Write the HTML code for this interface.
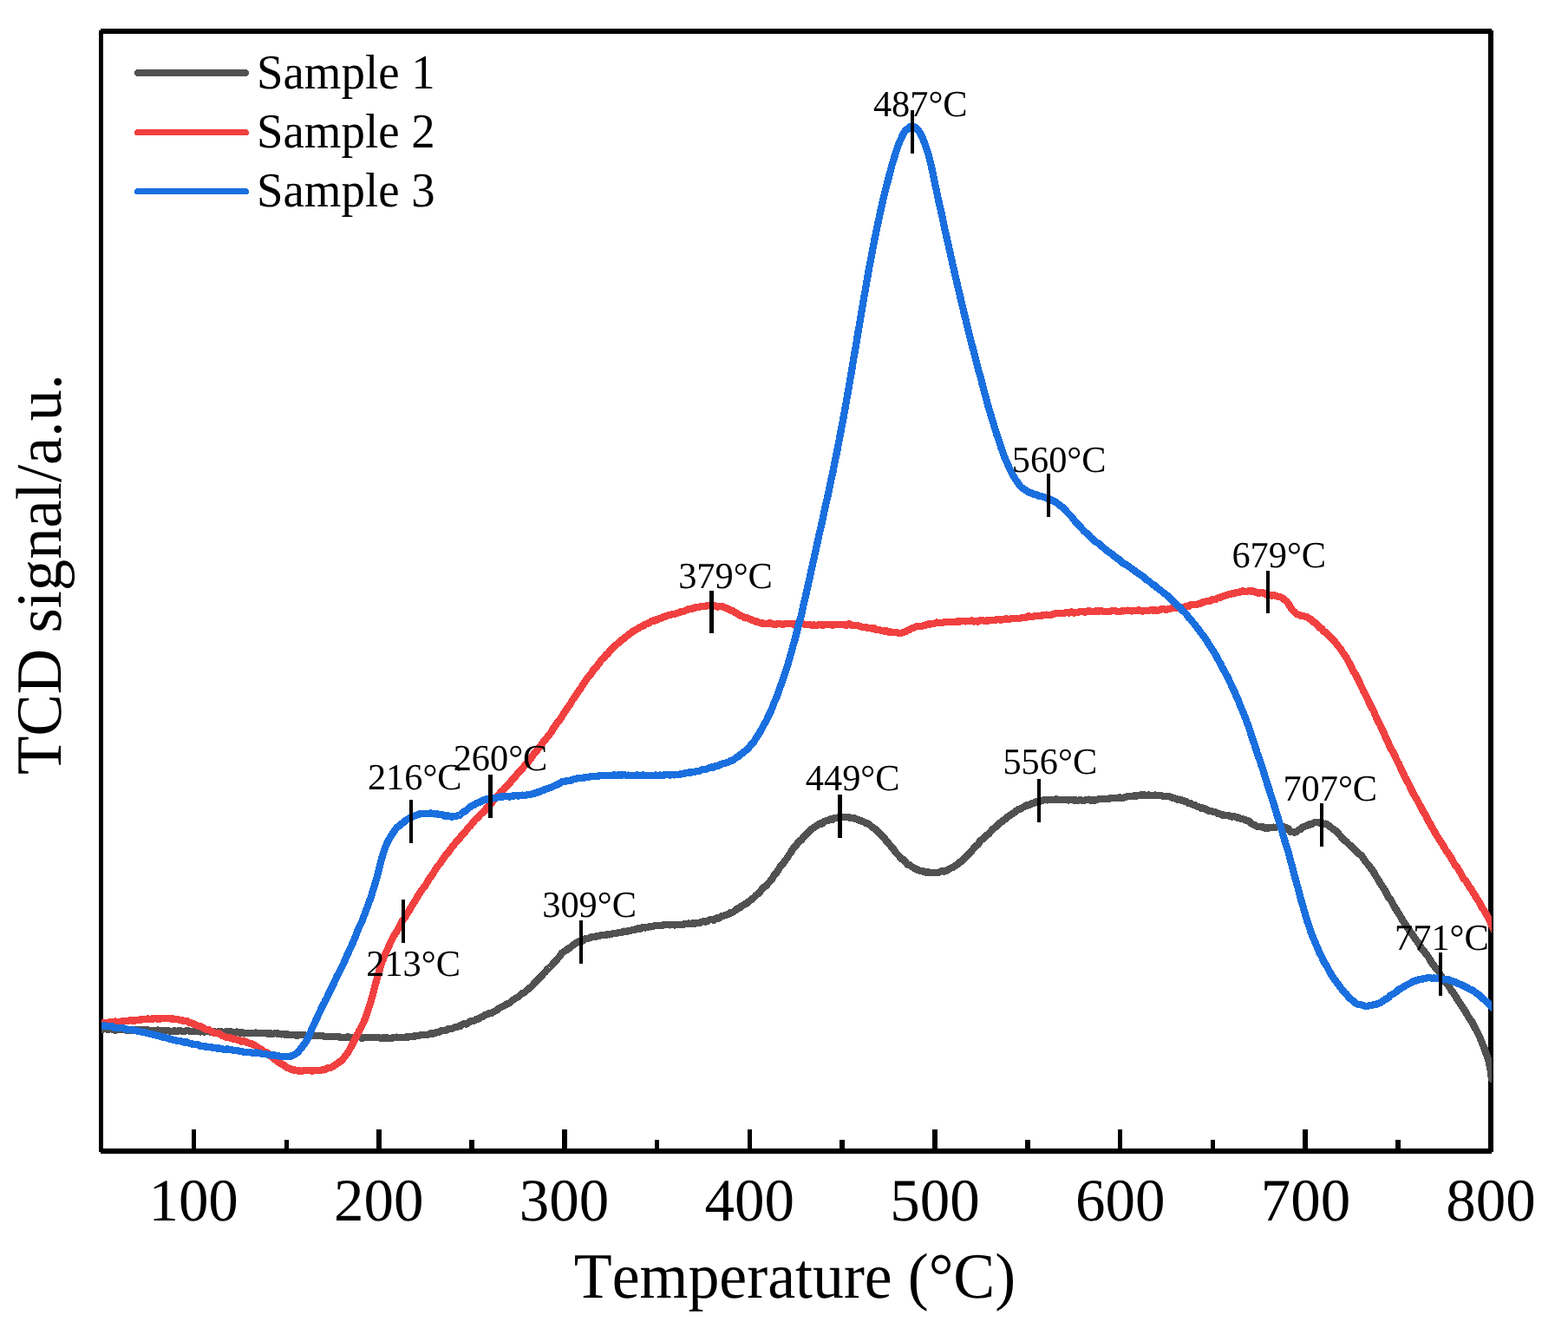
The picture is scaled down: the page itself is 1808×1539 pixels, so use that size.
<!DOCTYPE html>
<html lang="en"><head><meta charset="utf-8"><title>TCD signal vs Temperature</title>
<style>html,body{margin:0;padding:0;background:#fff;}body{width:1808px;height:1539px;overflow:hidden;}svg{display:block;}text{font-family:'Liberation Serif', 'DejaVu Serif', serif;fill:#000;font-kerning:none;font-variant-ligatures:none;text-rendering:geometricPrecision;}</style>
</head><body>
<svg width="1808" height="1539" viewBox="0 0 1808 1539" role="img" aria-label="TCD signal versus temperature for Sample 1, Sample 2 and Sample 3">
<rect x="0" y="0" width="1808" height="1539" fill="#ffffff"/>
<defs><clipPath id="plot"><rect x="117" y="35.9" width="1603.00" height="1291.20"/></clipPath></defs>
<g fill="#000" shape-rendering="crispEdges">
<rect x="114" y="35" width="5" height="1293"/>
<rect x="1716" y="35" width="6" height="1293"/>
<rect x="116" y="33" width="1604" height="6"/>
<rect x="116" y="1324" width="1604" height="6"/>
<rect x="221" y="1302" width="5" height="24"/>
<rect x="328" y="1314" width="5" height="12"/>
<rect x="434" y="1302" width="6" height="24"/>
<rect x="541" y="1314" width="6" height="12"/>
<rect x="648" y="1302" width="6" height="24"/>
<rect x="755" y="1314" width="5" height="12"/>
<rect x="862" y="1302" width="5" height="24"/>
<rect x="968" y="1314" width="6" height="12"/>
<rect x="1075" y="1302" width="6" height="24"/>
<rect x="1182" y="1314" width="6" height="12"/>
<rect x="1289" y="1302" width="5" height="24"/>
<rect x="1396" y="1314" width="5" height="12"/>
<rect x="1502" y="1302" width="6" height="24"/>
<rect x="1609" y="1314" width="6" height="12"/>
</g>
<g clip-path="url(#plot)" fill="none" stroke-linejoin="round" stroke-linecap="round" stroke-width="8.3" shape-rendering="crispEdges">
<path d="M111.1,1186.2L112.3,1186.7L113.5,1186.7L114.7,1186.3L115.9,1186.4L117.1,1186.8L118.3,1186.6L119.5,1186.1L120.7,1186.0L121.9,1186.3L123.1,1186.5L124.3,1186.6L125.5,1186.5L126.7,1186.2L127.9,1186.2L129.1,1186.3L130.3,1186.8L131.5,1187.5L132.7,1187.7L133.9,1187.5L135.1,1187.3L136.3,1187.2L137.5,1187.1L138.7,1186.9L139.9,1186.9L141.1,1186.9L142.3,1186.9L143.5,1186.9L144.7,1187.3L145.9,1188.0L147.1,1188.0L148.3,1187.6L149.5,1187.5L150.7,1187.6L151.9,1187.5L153.1,1187.2L154.3,1187.2L155.5,1187.3L156.7,1187.5L157.9,1187.6L159.1,1187.5L160.3,1187.4L161.5,1187.4L162.7,1187.5L163.9,1187.5L165.1,1187.5L166.3,1187.5L167.5,1187.5L168.7,1187.5L169.9,1187.4L171.1,1187.5L172.3,1187.8L173.5,1187.9L174.7,1187.8L175.9,1187.9L177.1,1188.1L178.3,1188.1L179.5,1188.0L180.7,1187.8L181.9,1187.6L183.1,1187.7L184.3,1188.0L185.5,1188.1L186.7,1188.1L187.9,1188.2L189.1,1188.4L190.3,1188.4L191.5,1188.3L192.7,1188.2L193.9,1188.3L195.1,1188.5L196.3,1188.7L197.5,1188.8L198.7,1188.7L199.9,1188.6L201.1,1188.3L202.3,1188.5L203.5,1188.9L204.7,1188.8L205.9,1188.4L207.1,1188.3L208.3,1188.4L209.5,1188.6L210.7,1188.8L211.9,1188.9L213.1,1188.7L214.3,1188.4L215.5,1188.0L216.7,1188.1L217.9,1188.5L219.1,1188.7L220.3,1188.8L221.5,1189.0L222.7,1189.3L223.9,1189.3L225.1,1188.8L226.3,1188.6L227.5,1188.5L228.7,1188.7L229.9,1189.3L231.1,1189.5L232.3,1189.3L233.5,1189.3L234.7,1189.5L235.9,1189.5L237.1,1189.3L238.3,1189.2L239.5,1189.3L240.7,1189.3L241.9,1189.4L243.1,1189.4L244.3,1189.4L245.5,1189.3L246.7,1189.2L247.9,1189.4L249.0,1189.7L250.2,1189.7L251.4,1189.4L252.6,1189.2L253.8,1189.2L255.0,1189.3L256.2,1189.6L257.4,1189.9L258.6,1190.5L259.8,1190.2L261.0,1189.2L262.2,1188.9L263.4,1189.3L264.6,1189.4L265.8,1189.2L267.0,1189.4L268.2,1189.9L269.4,1190.2L270.6,1190.0L271.8,1189.8L273.0,1189.6L274.2,1189.8L275.4,1190.4L276.6,1190.5L277.8,1190.1L279.0,1190.3L280.2,1191.1L281.4,1191.4L282.6,1191.0L283.8,1190.9L285.0,1191.0L286.2,1190.9L287.4,1190.7L288.6,1190.8L289.8,1191.1L291.0,1191.2L292.2,1191.1L293.4,1190.9L294.6,1190.6L295.8,1190.6L297.0,1190.9L298.2,1190.9L299.4,1190.9L300.6,1190.9L301.8,1191.1L303.0,1191.2L304.2,1191.2L305.4,1191.2L306.6,1191.3L307.8,1191.4L309.0,1191.6L310.2,1191.5L311.4,1191.4L312.6,1191.5L313.8,1192.0L315.0,1192.0L316.2,1191.4L317.4,1191.2L318.6,1191.5L319.8,1191.6L321.0,1191.5L322.2,1191.7L323.4,1192.2L324.6,1192.4L325.8,1192.3L327.0,1192.3L328.2,1192.5L329.4,1192.5L330.6,1192.3L331.8,1192.4L333.0,1192.7L334.2,1192.9L335.4,1193.0L336.6,1193.0L337.8,1193.0L339.0,1193.2L340.2,1193.4L341.4,1193.6L342.6,1193.6L343.8,1193.5L345.0,1193.2L346.2,1192.9L347.4,1192.7L348.6,1192.7L349.8,1192.8L351.0,1193.1L352.2,1193.7L353.4,1193.8L354.6,1193.6L355.8,1193.6L357.0,1193.9L358.2,1193.9L359.4,1193.4L360.6,1193.4L361.8,1193.9L363.0,1194.1L364.2,1194.0L365.4,1194.0L366.6,1194.1L367.8,1194.1L369.0,1194.1L370.2,1194.1L371.4,1194.2L372.6,1194.4L373.8,1194.7L375.0,1194.9L376.2,1195.2L377.4,1195.2L378.6,1195.1L379.8,1195.1L381.0,1195.3L382.2,1195.3L383.4,1195.3L384.6,1195.2L385.8,1194.9L387.0,1194.8L388.1,1194.7L389.3,1194.9L390.5,1195.4L391.7,1195.6L392.9,1195.7L394.1,1195.9L395.3,1196.3L396.5,1196.3L397.7,1196.0L398.9,1195.7L400.1,1195.5L401.3,1195.5L402.5,1195.6L403.7,1195.8L404.9,1196.1L406.1,1196.2L407.3,1195.9L408.5,1195.8L409.7,1195.9L410.9,1195.7L412.1,1195.0L413.3,1194.7L414.5,1195.1L415.7,1195.8L416.9,1196.7L418.1,1196.9L419.3,1196.3L420.5,1196.0L421.7,1196.0L422.9,1196.0L424.1,1196.0L425.3,1196.1L426.5,1196.2L427.7,1196.3L428.9,1196.1L430.1,1196.0L431.3,1195.9L432.5,1196.0L433.7,1196.0L434.9,1196.1L436.1,1196.2L437.3,1196.4L438.5,1196.7L439.7,1196.8L440.9,1196.6L442.1,1196.5L443.3,1196.4L444.5,1196.4L445.7,1196.5L446.9,1196.5L448.1,1196.7L449.3,1196.8L450.5,1196.7L451.7,1196.6L452.9,1196.5L454.1,1196.2L455.3,1195.9L456.4,1195.7L457.6,1195.6L458.8,1195.7L460.0,1196.0L461.2,1196.2L462.4,1196.0L463.6,1196.0L464.8,1196.3L466.0,1196.3L467.2,1195.7L468.4,1195.4L469.6,1195.5L470.8,1195.5L471.9,1195.2L473.1,1195.0L474.3,1194.8L475.5,1194.7L476.7,1194.6L477.9,1194.5L479.1,1194.4L480.3,1194.3L481.5,1194.1L482.6,1193.9L483.8,1193.5L485.0,1193.1L486.2,1193.1L487.4,1193.0L488.6,1192.9L489.7,1192.9L490.9,1193.0L492.1,1193.0L493.3,1192.7L494.5,1192.3L495.6,1191.8L496.8,1191.3L498.0,1191.5L499.2,1191.6L500.4,1191.3L501.5,1190.9L502.7,1190.3L503.9,1189.7L505.0,1189.8L506.2,1190.0L507.4,1189.2L508.6,1188.2L509.7,1188.1L510.9,1188.2L512.1,1188.3L513.2,1188.3L514.4,1187.7L515.6,1186.8L516.7,1186.4L517.9,1186.2L519.0,1186.2L520.2,1186.2L521.3,1185.9L522.5,1185.2L523.6,1184.6L524.8,1184.3L526.0,1184.0L527.1,1183.7L528.2,1183.4L529.4,1183.3L530.5,1183.1L531.7,1182.1L532.8,1181.0L534.0,1180.6L535.1,1180.1L536.2,1180.3L537.4,1180.6L538.5,1180.0L539.6,1179.2L540.7,1178.5L541.9,1177.7L543.0,1177.3L544.1,1177.1L545.2,1176.9L546.4,1176.6L547.5,1176.3L548.6,1175.6L549.7,1174.9L550.8,1174.7L551.9,1174.5L553.0,1173.7L554.1,1172.8L555.2,1172.4L556.3,1172.1L557.4,1171.4L558.5,1170.4L559.6,1169.7L560.7,1169.6L561.8,1169.4L562.8,1168.8L563.9,1168.1L565.0,1168.1L566.1,1168.1L567.1,1167.6L568.2,1166.9L569.3,1166.3L570.3,1165.8L571.4,1165.3L572.4,1164.6L573.5,1163.9L574.5,1163.1L575.6,1162.4L576.6,1161.7L577.7,1161.2L578.7,1160.6L579.7,1160.1L580.8,1159.6L581.8,1159.0L582.8,1158.4L583.8,1157.8L584.9,1157.2L585.9,1156.7L586.9,1156.5L587.9,1156.3L588.9,1155.2L589.9,1154.1L590.9,1153.2L591.9,1152.6L592.8,1152.0L593.8,1151.2L594.8,1150.5L595.8,1150.0L596.7,1149.6L597.7,1149.2L598.7,1148.3L599.6,1147.4L600.6,1146.5L601.5,1145.7L602.5,1145.0L603.4,1144.8L604.3,1144.5L605.3,1143.9L606.2,1142.8L607.1,1141.8L608.0,1141.0L608.9,1140.3L609.8,1139.6L610.7,1138.9L611.6,1138.2L612.5,1137.4L613.4,1136.5L614.3,1135.7L615.1,1134.7L616.0,1133.8L616.9,1132.8L617.7,1132.0L618.6,1131.1L619.4,1130.3L620.3,1129.4L621.1,1128.6L622.0,1127.8L622.8,1126.9L623.6,1126.0L624.5,1125.0L625.3,1123.9L626.1,1122.8L627.0,1122.0L627.8,1121.3L628.6,1120.6L629.4,1119.7L630.2,1118.6L631.1,1117.5L631.9,1116.8L632.7,1116.1L633.5,1115.5L634.3,1114.7L635.2,1113.9L636.0,1113.1L636.8,1112.1L637.6,1111.0L638.5,1110.0L639.3,1109.2L640.1,1108.3L641.0,1107.5L641.8,1106.5L642.6,1105.6L643.5,1104.6L644.3,1103.6L645.2,1102.7L646.0,1101.6L646.9,1100.3L647.8,1099.0L648.6,1098.2L649.5,1097.5L650.4,1096.9L651.3,1096.4L652.2,1095.8L653.1,1095.2L654.0,1094.5L654.9,1093.8L655.8,1093.2L656.8,1092.8L657.7,1092.4L658.6,1091.4L659.6,1090.4L660.5,1089.6L661.5,1089.0L662.5,1088.3L663.5,1087.7L664.5,1087.0L665.5,1086.4L666.5,1085.8L667.5,1085.3L668.6,1085.0L669.6,1084.8L670.7,1084.8L671.7,1084.7L672.8,1083.9L673.9,1082.9L675.0,1082.3L676.1,1082.0L677.3,1081.8L678.4,1081.7L679.6,1081.4L680.7,1080.9L681.9,1080.4L683.1,1080.0L684.3,1079.7L685.5,1079.8L686.7,1079.7L687.9,1079.4L689.1,1079.1L690.3,1078.9L691.5,1078.6L692.8,1078.1L694.0,1077.8L695.2,1078.0L696.4,1078.0L697.7,1077.8L698.9,1077.6L700.2,1077.4L701.4,1077.3L702.6,1077.4L703.9,1077.2L705.1,1076.8L706.3,1076.4L707.6,1076.0L708.8,1075.9L710.0,1076.1L711.2,1075.8L712.4,1075.3L713.7,1075.0L714.9,1074.9L716.1,1074.7L717.2,1074.6L718.4,1074.2L719.6,1073.6L720.8,1073.7L722.0,1074.0L723.2,1073.8L724.3,1073.2L725.5,1072.9L726.7,1072.9L727.8,1072.7L729.0,1072.3L730.2,1072.0L731.3,1071.9L732.5,1071.6L733.6,1070.9L734.8,1070.5L735.9,1070.6L737.1,1070.6L738.3,1070.6L739.4,1070.4L740.6,1069.7L741.7,1069.0L742.9,1069.3L744.0,1069.5L745.2,1069.2L746.3,1069.0L747.5,1068.6L748.6,1068.3L749.8,1068.3L751.0,1068.4L752.1,1068.2L753.3,1067.8L754.5,1067.4L755.6,1067.0L756.8,1067.0L758.0,1067.3L759.1,1067.1L760.3,1066.7L761.5,1066.7L762.7,1066.8L763.9,1066.7L765.0,1066.4L766.2,1066.1L767.4,1065.8L768.6,1065.8L769.8,1066.0L771.0,1066.2L772.2,1066.4L773.4,1066.2L774.6,1065.7L775.8,1065.7L776.9,1066.3L778.1,1066.5L779.3,1066.1L780.5,1066.0L781.7,1066.1L782.9,1066.1L784.1,1066.0L785.3,1065.9L786.5,1065.9L787.7,1065.8L788.9,1065.4L790.1,1065.1L791.3,1064.8L792.5,1064.7L793.8,1064.6L795.0,1064.7L796.2,1064.9L797.4,1064.9L798.6,1064.5L799.8,1064.4L801.0,1064.4L802.2,1064.4L803.4,1064.1L804.6,1064.0L805.8,1064.1L807.0,1063.8L808.2,1063.2L809.4,1062.7L810.6,1062.2L811.8,1062.1L813.0,1062.5L814.2,1062.5L815.4,1062.0L816.5,1061.5L817.7,1060.7L818.9,1060.3L820.1,1060.3L821.2,1060.4L822.4,1060.7L823.6,1060.5L824.7,1059.3L825.9,1058.5L827.0,1058.7L828.2,1058.7L829.3,1058.0L830.4,1057.3L831.6,1056.6L832.7,1055.8L833.8,1055.7L834.9,1055.6L836.0,1055.3L837.1,1054.9L838.2,1054.5L839.3,1054.2L840.4,1053.7L841.5,1052.8L842.5,1052.0L843.6,1051.9L844.7,1051.8L845.7,1051.1L846.8,1050.3L847.8,1049.4L848.8,1048.4L849.9,1047.7L850.9,1047.4L851.9,1047.2L852.9,1046.4L853.9,1045.5L854.9,1044.8L855.9,1044.2L856.9,1043.6L857.9,1043.1L858.9,1042.5L859.9,1041.9L860.8,1041.3L861.8,1040.7L862.7,1040.0L863.7,1039.4L864.6,1038.5L865.6,1037.6L866.5,1036.6L867.4,1036.2L868.3,1035.7L869.2,1034.9L870.1,1033.9L871.0,1032.8L871.9,1032.0L872.8,1031.3L873.7,1030.5L874.6,1029.7L875.4,1028.9L876.3,1028.0L877.1,1027.0L878.0,1025.9L878.8,1024.9L879.7,1024.0L880.5,1023.0L881.3,1022.4L882.1,1021.9L882.9,1021.5L883.7,1020.7L884.5,1019.6L885.3,1018.6L886.1,1017.8L886.9,1017.0L887.7,1016.3L888.4,1015.4L889.2,1014.5L889.9,1013.6L890.7,1012.5L891.4,1011.2L892.1,1009.9L892.9,1008.6L893.6,1007.9L894.3,1007.3L895.0,1006.6L895.7,1005.7L896.4,1004.6L897.1,1003.5L897.8,1002.4L898.5,1001.2L899.2,999.9L899.9,998.7L900.6,997.9L901.2,997.2L901.9,996.6L902.6,995.8L903.3,994.9L904.0,994.0L904.6,993.1L905.3,992.1L906.0,991.2L906.7,990.2L907.4,989.2L908.1,988.2L908.8,987.1L909.4,986.1L910.1,985.1L910.8,984.1L911.5,983.0L912.3,981.9L913.0,980.7L913.7,979.4L914.4,978.2L915.1,977.5L915.9,976.9L916.6,976.2L917.3,975.3L918.1,974.3L918.8,973.2L919.6,972.1L920.4,970.9L921.2,969.8L922.0,969.1L922.8,969.0L923.6,968.8L924.4,968.1L925.2,966.7L926.0,965.2L926.9,964.2L927.8,963.4L928.6,962.7L929.5,961.8L930.4,960.8L931.3,959.9L932.2,959.2L933.1,958.5L934.1,957.7L935.0,956.7L936.0,955.7L936.9,955.0L937.9,954.4L938.9,953.8L939.9,953.0L940.9,952.3L941.9,951.7L942.9,951.0L943.9,950.4L944.9,949.7L946.0,949.3L947.0,949.4L948.1,949.5L949.1,948.3L950.2,947.1L951.3,946.6L952.4,946.3L953.5,946.1L954.6,946.1L955.7,945.6L956.8,944.7L957.9,944.1L959.0,944.4L960.2,944.6L961.3,943.6L962.5,942.7L963.6,942.8L964.8,942.9L965.9,942.6L967.1,942.4L968.3,942.1L969.5,941.9L970.7,941.9L971.9,942.1L973.1,942.0L974.3,941.8L975.5,942.0L976.7,942.2L977.9,942.3L979.0,942.4L980.2,942.6L981.4,942.8L982.6,942.8L983.8,942.8L985.0,943.3L986.2,943.9L987.4,944.2L988.5,944.6L989.7,945.1L990.9,945.8L992.0,946.1L993.1,946.4L994.3,946.7L995.4,947.2L996.5,947.8L997.6,948.4L998.7,949.0L999.7,949.2L1000.8,949.5L1001.8,950.2L1002.9,951.0L1003.9,951.9L1004.9,952.9L1005.9,953.7L1006.8,954.2L1007.8,954.7L1008.7,955.4L1009.6,956.2L1010.5,957.0L1011.4,957.9L1012.3,958.8L1013.2,959.7L1014.0,960.5L1014.9,961.3L1015.7,962.1L1016.5,962.8L1017.4,963.6L1018.2,964.5L1019.0,965.5L1019.8,966.4L1020.6,967.5L1021.3,968.6L1022.1,969.7L1022.9,970.6L1023.7,971.4L1024.4,972.2L1025.2,973.1L1026.0,973.9L1026.7,974.7L1027.5,975.6L1028.2,976.5L1029.0,977.5L1029.8,978.4L1030.5,979.5L1031.3,980.6L1032.1,981.7L1032.8,982.6L1033.6,983.5L1034.4,984.3L1035.2,985.2L1036.0,986.1L1036.8,986.9L1037.6,988.0L1038.4,989.0L1039.2,990.0L1040.1,990.4L1040.9,990.8L1041.7,991.2L1042.6,992.1L1043.5,993.0L1044.4,994.0L1045.3,995.2L1046.2,996.5L1047.1,996.9L1048.0,997.0L1049.0,997.2L1050.0,998.0L1050.9,998.9L1051.9,999.5L1053.0,1000.0L1054.0,1000.6L1055.1,1001.2L1056.1,1001.7L1057.2,1002.4L1058.3,1003.1L1059.4,1003.4L1060.6,1003.7L1061.7,1003.8L1062.9,1004.0L1064.1,1004.4L1065.2,1004.9L1066.4,1005.3L1067.6,1005.6L1068.8,1005.6L1070.0,1005.5L1071.2,1005.6L1072.4,1005.9L1073.7,1005.9L1074.9,1005.7L1076.1,1005.9L1077.3,1006.2L1078.5,1006.2L1079.7,1006.0L1080.9,1006.0L1082.1,1006.1L1083.3,1005.4L1084.5,1004.6L1085.7,1004.4L1086.9,1004.3L1088.0,1004.4L1089.2,1004.5L1090.3,1004.1L1091.4,1003.6L1092.5,1003.0L1093.6,1002.2L1094.7,1001.6L1095.8,1001.1L1096.8,1000.7L1097.8,1000.3L1098.9,999.9L1099.9,999.2L1100.9,998.4L1101.9,997.7L1102.8,997.2L1103.8,996.7L1104.8,995.8L1105.7,994.9L1106.6,994.0L1107.6,993.5L1108.5,992.9L1109.4,992.1L1110.3,991.3L1111.2,990.4L1112.1,989.4L1113.0,988.5L1113.8,987.5L1114.7,986.7L1115.6,985.9L1116.4,985.1L1117.3,984.2L1118.1,983.4L1119.0,982.5L1119.8,981.6L1120.7,980.6L1121.5,979.6L1122.3,978.5L1123.2,977.5L1124.0,976.7L1124.8,975.9L1125.7,975.1L1126.5,974.4L1127.3,973.8L1128.1,973.1L1128.9,971.6L1129.8,970.0L1130.6,968.8L1131.4,968.3L1132.2,967.9L1133.1,967.4L1133.9,966.5L1134.7,965.7L1135.6,964.9L1136.4,964.1L1137.2,963.3L1138.1,962.7L1138.9,962.0L1139.8,961.4L1140.6,960.6L1141.5,959.6L1142.4,958.7L1143.2,957.6L1144.1,956.5L1145.0,955.5L1145.9,954.9L1146.7,954.3L1147.6,953.6L1148.5,952.8L1149.4,952.0L1150.3,951.0L1151.3,950.0L1152.2,949.0L1153.1,948.4L1154.0,947.9L1155.0,947.2L1155.9,946.6L1156.8,945.9L1157.8,945.2L1158.7,944.5L1159.7,943.7L1160.7,942.7L1161.6,941.8L1162.6,941.3L1163.6,940.8L1164.6,940.2L1165.6,939.3L1166.6,938.6L1167.6,937.9L1168.6,937.3L1169.6,936.6L1170.6,935.8L1171.6,935.0L1172.7,934.1L1173.7,933.4L1174.7,933.2L1175.8,933.0L1176.8,932.4L1177.9,931.8L1179.0,931.1L1180.0,930.5L1181.1,929.8L1182.2,929.1L1183.3,928.5L1184.4,928.4L1185.5,928.4L1186.6,927.9L1187.7,927.3L1188.8,926.8L1189.9,926.2L1191.0,925.9L1192.1,925.7L1193.3,925.2L1194.4,924.2L1195.6,923.7L1196.7,924.3L1197.9,924.6L1199.0,923.8L1200.2,923.1L1201.4,923.0L1202.5,922.8L1203.7,922.4L1204.9,922.2L1206.1,922.3L1207.3,922.4L1208.5,922.1L1209.7,921.8L1210.9,921.8L1212.1,921.8L1213.3,921.8L1214.5,921.8L1215.7,921.7L1216.9,921.6L1218.1,921.6L1219.3,921.6L1220.5,922.0L1221.7,922.3L1222.9,922.0L1224.1,921.7L1225.4,921.8L1226.6,921.9L1227.8,922.0L1229.0,922.2L1230.2,922.3L1231.4,922.4L1232.6,922.4L1233.8,922.3L1235.0,922.0L1236.2,921.8L1237.4,922.3L1238.6,922.7L1239.8,922.6L1241.0,922.6L1242.2,922.7L1243.4,922.7L1244.6,922.4L1245.8,922.2L1247.0,922.5L1248.1,922.8L1249.3,922.8L1250.5,922.8L1251.7,922.4L1252.9,922.0L1254.1,921.8L1255.3,921.6L1256.5,922.2L1257.7,922.8L1258.9,922.5L1260.0,922.2L1261.2,922.5L1262.4,922.8L1263.6,922.3L1264.8,921.9L1266.0,921.5L1267.2,921.0L1268.4,921.2L1269.6,921.3L1270.8,921.3L1271.9,921.2L1273.1,921.2L1274.3,921.2L1275.5,921.2L1276.7,921.1L1277.9,920.8L1279.1,920.5L1280.3,920.4L1281.5,920.3L1282.7,920.3L1283.9,920.3L1285.1,920.1L1286.3,919.9L1287.5,919.9L1288.7,919.9L1289.9,919.6L1291.1,919.2L1292.3,919.6L1293.5,920.2L1294.7,919.9L1295.9,919.6L1297.1,919.2L1298.3,918.8L1299.5,918.4L1300.7,918.0L1301.9,918.0L1303.1,918.1L1304.3,918.0L1305.5,918.0L1306.7,917.6L1307.9,917.1L1309.1,917.4L1310.3,917.7L1311.5,917.4L1312.7,917.0L1313.9,916.8L1315.1,916.5L1316.3,916.5L1317.5,916.4L1318.7,916.5L1319.8,916.6L1321.0,916.9L1322.2,917.2L1323.4,916.9L1324.6,916.4L1325.8,916.6L1327.0,917.0L1328.2,917.1L1329.3,917.1L1330.5,916.8L1331.7,916.5L1332.9,916.7L1334.1,917.1L1335.3,917.2L1336.4,917.3L1337.6,917.3L1338.8,917.2L1339.9,917.5L1341.1,917.8L1342.3,917.9L1343.4,917.9L1344.6,917.9L1345.8,918.1L1346.9,918.2L1348.1,918.3L1349.2,918.5L1350.4,919.0L1351.6,919.5L1352.7,919.8L1353.9,920.2L1355.0,920.6L1356.2,921.0L1357.3,921.5L1358.5,922.1L1359.6,921.8L1360.8,921.6L1361.9,922.3L1363.0,923.1L1364.2,923.4L1365.3,923.5L1366.5,923.7L1367.6,924.0L1368.8,924.8L1369.9,925.9L1371.0,926.3L1372.2,926.1L1373.3,926.3L1374.5,927.2L1375.6,927.8L1376.7,928.0L1377.9,928.2L1379.0,928.9L1380.2,929.6L1381.3,929.8L1382.4,930.1L1383.6,930.9L1384.7,931.6L1385.9,931.6L1387.0,931.5L1388.2,931.9L1389.3,932.4L1390.4,932.9L1391.6,933.4L1392.7,934.1L1393.9,934.8L1395.0,935.1L1396.2,935.1L1397.3,935.3L1398.5,935.7L1399.6,936.1L1400.8,936.2L1401.9,936.5L1403.1,937.2L1404.3,937.8L1405.4,938.0L1406.6,938.2L1407.7,938.9L1408.9,939.5L1410.1,939.5L1411.2,939.6L1412.4,939.7L1413.6,939.9L1414.7,939.9L1415.9,939.9L1417.1,940.4L1418.2,940.9L1419.4,941.2L1420.5,941.5L1421.7,941.4L1422.8,941.1L1424.0,941.5L1425.1,942.2L1426.3,942.5L1427.4,942.4L1428.6,942.7L1429.7,943.4L1430.8,944.0L1431.9,944.1L1433.0,944.3L1434.2,944.6L1435.3,944.9L1436.4,945.5L1437.5,946.2L1438.6,946.3L1439.7,946.4L1440.8,947.2L1441.9,948.4L1443.0,949.4L1444.1,950.1L1445.2,950.7L1446.3,951.1L1447.4,951.5L1448.5,952.2L1449.7,952.8L1450.8,952.8L1451.9,952.9L1453.0,953.1L1454.2,953.4L1455.3,953.5L1456.5,953.5L1457.7,954.0L1458.8,954.6L1460.0,954.7L1461.2,954.6L1462.4,954.5L1463.6,954.4L1464.9,954.2L1466.1,953.8L1467.4,953.7L1468.6,953.6L1469.9,953.8L1471.2,953.9L1472.4,953.4L1473.7,952.9L1475.0,952.8L1476.2,952.7L1477.4,952.8L1478.6,953.0L1479.8,953.3L1480.9,953.7L1482.0,953.9L1483.0,954.3L1484.0,954.6L1485.0,954.9L1485.9,955.7L1486.9,957.2L1487.8,958.6L1488.8,959.1L1489.8,959.3L1490.8,959.3L1491.9,959.5L1493.0,959.5L1494.1,959.1L1495.3,958.5L1496.5,957.6L1497.6,956.6L1498.8,956.3L1500.0,956.0L1501.1,954.7L1502.2,953.4L1503.3,953.0L1504.5,952.7L1505.5,952.4L1506.6,952.1L1507.7,951.5L1508.8,950.7L1509.9,950.1L1511.0,950.3L1512.1,950.4L1513.2,949.5L1514.3,948.7L1515.5,948.4L1516.6,948.3L1517.8,948.0L1519.0,947.7L1520.2,948.2L1521.4,948.8L1522.6,948.8L1523.8,948.6L1525.0,949.1L1526.2,949.8L1527.4,949.7L1528.6,949.6L1529.7,950.1L1530.8,950.8L1531.9,951.5L1533.0,952.4L1534.0,953.2L1535.0,954.1L1536.0,955.1L1537.0,955.7L1537.9,956.3L1538.8,956.9L1539.6,957.5L1540.5,958.1L1541.3,958.9L1542.2,959.8L1543.0,960.7L1543.8,961.6L1544.6,962.5L1545.4,963.5L1546.2,964.4L1547.0,965.3L1547.8,966.1L1548.6,967.1L1549.5,968.0L1550.3,968.9L1551.2,969.5L1552.0,970.1L1552.9,970.7L1553.8,971.7L1554.7,972.8L1555.6,973.7L1556.5,974.4L1557.4,975.0L1558.3,975.7L1559.2,976.5L1560.1,977.2L1561.0,978.2L1561.8,979.2L1562.7,980.2L1563.6,981.2L1564.5,982.1L1565.4,982.9L1566.2,983.7L1567.1,984.5L1567.9,985.1L1568.7,985.6L1569.6,986.1L1570.4,987.2L1571.2,988.3L1572.0,989.5L1572.7,990.7L1573.5,991.8L1574.3,993.0L1575.0,993.9L1575.8,994.7L1576.5,995.5L1577.2,996.4L1577.9,997.3L1578.7,998.2L1579.4,999.1L1580.1,1000.0L1580.7,1000.9L1581.4,1001.7L1582.1,1002.7L1582.8,1003.6L1583.5,1004.6L1584.1,1005.6L1584.8,1006.9L1585.4,1008.1L1586.1,1009.3L1586.7,1010.4L1587.4,1011.3L1588.0,1012.2L1588.6,1013.1L1589.3,1014.2L1589.9,1015.3L1590.5,1016.5L1591.1,1017.6L1591.7,1018.5L1592.4,1019.4L1593.0,1020.3L1593.6,1021.1L1594.2,1022.1L1594.8,1023.0L1595.4,1024.0L1596.0,1025.0L1596.6,1026.0L1597.2,1027.1L1597.8,1028.1L1598.4,1029.2L1599.0,1030.4L1599.7,1031.7L1600.3,1033.0L1600.9,1034.2L1601.5,1034.8L1602.1,1035.3L1602.7,1035.9L1603.3,1036.6L1603.9,1037.9L1604.6,1039.1L1605.2,1040.4L1605.8,1041.7L1606.4,1042.8L1607.0,1044.0L1607.7,1045.1L1608.3,1046.2L1608.9,1047.1L1609.5,1048.1L1610.2,1049.0L1610.8,1050.0L1611.4,1050.9L1612.1,1051.9L1612.7,1052.8L1613.3,1053.9L1614.0,1055.0L1614.6,1056.1L1615.2,1057.2L1615.9,1058.3L1616.5,1059.5L1617.2,1060.6L1617.8,1061.7L1618.5,1062.6L1619.1,1063.6L1619.8,1064.6L1620.4,1065.6L1621.1,1066.6L1621.7,1067.7L1622.4,1068.8L1623.0,1069.8L1623.7,1070.8L1624.4,1071.8L1625.0,1072.7L1625.7,1073.7L1626.3,1074.6L1627.0,1075.5L1627.7,1076.3L1628.4,1077.2L1629.0,1078.0L1629.7,1078.9L1630.4,1080.0L1631.0,1081.1L1631.7,1082.2L1632.4,1083.1L1633.1,1083.9L1633.8,1084.8L1634.4,1085.6L1635.1,1086.8L1635.8,1087.9L1636.5,1089.1L1637.2,1090.2L1637.9,1091.4L1638.6,1092.5L1639.2,1093.6L1639.9,1094.3L1640.6,1094.9L1641.3,1095.5L1642.0,1096.4L1642.7,1097.5L1643.4,1098.6L1644.1,1099.7L1644.8,1100.5L1645.5,1101.3L1646.2,1102.2L1646.9,1103.1L1647.6,1104.2L1648.3,1105.2L1649.0,1106.3L1649.6,1107.6L1650.3,1108.8L1651.0,1110.0L1651.7,1111.0L1652.4,1111.8L1653.1,1112.7L1653.8,1113.6L1654.5,1114.7L1655.2,1115.8L1655.9,1116.9L1656.6,1117.5L1657.3,1118.0L1658.0,1118.5L1658.7,1119.4L1659.4,1120.8L1660.1,1122.2L1660.8,1123.6L1661.5,1124.7L1662.2,1125.8L1662.9,1126.9L1663.6,1127.9L1664.3,1128.9L1665.0,1129.9L1665.6,1130.9L1666.3,1131.6L1667.0,1132.3L1667.7,1132.9L1668.4,1133.8L1669.1,1134.7L1669.8,1135.6L1670.5,1136.5L1671.1,1137.7L1671.8,1138.9L1672.5,1140.1L1673.2,1141.2L1673.9,1142.1L1674.5,1143.1L1675.2,1144.0L1675.9,1144.9L1676.6,1145.8L1677.2,1146.7L1677.9,1147.7L1678.6,1148.9L1679.3,1150.0L1679.9,1151.1L1680.6,1152.3L1681.3,1153.4L1681.9,1154.5L1682.6,1155.6L1683.2,1156.5L1683.9,1157.3L1684.5,1158.2L1685.2,1159.2L1685.9,1160.2L1686.5,1161.2L1687.2,1162.2L1687.8,1163.2L1688.4,1164.2L1689.1,1165.2L1689.7,1166.3L1690.4,1167.3L1691.0,1168.4L1691.6,1169.4L1692.2,1170.5L1692.9,1171.6L1693.5,1172.7L1694.1,1173.8L1694.7,1174.7L1695.3,1175.5L1695.9,1176.2L1696.5,1176.9L1697.1,1177.8L1697.7,1178.9L1698.3,1180.0L1698.9,1181.1L1699.5,1182.3L1700.0,1183.4L1700.6,1184.5L1701.2,1185.6L1701.7,1186.7L1702.3,1187.8L1702.8,1188.8L1703.4,1189.8L1703.9,1190.9L1704.4,1191.9L1705.0,1192.9L1705.5,1194.0L1706.0,1195.0L1706.5,1196.1L1707.0,1197.4L1707.5,1198.7L1708.0,1200.0L1708.5,1201.3L1709.0,1202.5L1709.4,1203.6L1709.9,1204.7L1710.4,1205.8L1710.8,1206.9L1711.2,1208.0L1711.7,1209.1L1712.1,1210.3L1712.5,1211.5L1712.9,1212.7L1713.3,1213.8L1713.7,1215.0L1714.1,1215.9L1714.5,1216.9L1714.9,1217.9L1715.2,1218.9L1715.6,1219.9L1715.9,1220.9L1716.2,1222.1L1716.6,1223.3L1716.9,1224.6L1717.2,1225.9L1717.4,1227.1L1717.7,1228.4L1718.0,1229.6L1718.2,1230.9L1718.4,1232.1L1718.7,1233.2L1718.9,1234.3L1719.0,1235.5L1719.2,1236.6L1719.3,1237.7L1719.5,1238.9L1719.6,1240.0L1719.6,1241.2L1719.7,1242.4L1719.8,1243.6" stroke="#515151"/>
<path d="M111.1,1179.1L112.3,1179.3L113.5,1179.4L114.7,1179.4L115.9,1179.3L117.1,1179.2L118.3,1179.1L119.5,1179.0L120.7,1179.2L121.9,1179.4L123.1,1179.5L124.3,1179.5L125.5,1179.0L126.7,1178.4L127.9,1178.3L129.1,1178.8L130.3,1178.6L131.5,1177.8L132.7,1177.6L133.9,1177.7L135.1,1177.7L136.3,1177.8L137.5,1177.8L138.6,1177.7L139.8,1177.5L141.0,1177.1L142.2,1176.9L143.4,1176.9L144.6,1176.9L145.8,1177.0L147.0,1176.9L148.2,1176.6L149.4,1176.4L150.6,1176.3L151.8,1176.4L153.0,1176.5L154.2,1176.6L155.4,1176.6L156.5,1176.4L157.7,1176.1L158.9,1175.8L160.1,1175.7L161.3,1175.6L162.5,1175.5L163.7,1175.4L164.9,1175.2L166.1,1175.0L167.3,1174.9L168.5,1174.8L169.7,1174.6L170.9,1174.5L172.1,1174.8L173.3,1174.9L174.5,1174.7L175.7,1174.5L176.9,1174.4L178.1,1174.3L179.3,1174.3L180.5,1174.4L181.7,1174.4L182.9,1174.4L184.1,1174.6L185.3,1174.5L186.5,1174.0L187.7,1173.8L188.9,1173.7L190.1,1173.8L191.3,1173.9L192.5,1173.9L193.7,1173.7L194.9,1173.8L196.1,1174.3L197.3,1174.6L198.5,1174.6L199.7,1174.6L200.9,1174.7L202.1,1174.8L203.3,1174.7L204.4,1174.9L205.6,1175.3L206.8,1175.7L208.0,1176.0L209.1,1176.3L210.3,1176.5L211.5,1176.6L212.6,1176.8L213.8,1177.0L214.9,1177.0L216.1,1177.1L217.2,1178.1L218.4,1179.1L219.5,1179.2L220.6,1179.4L221.8,1179.7L222.9,1180.0L224.0,1180.7L225.1,1181.5L226.2,1182.0L227.4,1182.4L228.5,1182.6L229.6,1182.7L230.7,1183.0L231.8,1183.7L232.9,1184.4L234.0,1184.9L235.1,1185.3L236.2,1186.0L237.3,1186.7L238.4,1186.8L239.5,1186.7L240.6,1187.1L241.7,1187.8L242.8,1188.5L243.9,1189.0L245.0,1189.6L246.1,1190.3L247.2,1191.1L248.3,1191.0L249.4,1190.9L250.5,1191.0L251.6,1191.0L252.8,1191.5L253.9,1192.2L255.0,1193.0L256.1,1193.7L257.3,1194.3L258.4,1194.8L259.6,1195.3L260.7,1195.9L261.9,1196.3L263.1,1196.3L264.2,1196.4L265.4,1196.4L266.6,1196.6L267.7,1197.2L268.9,1197.9L270.1,1198.0L271.3,1198.1L272.5,1198.3L273.7,1198.6L274.8,1198.9L276.0,1199.3L277.2,1199.9L278.4,1200.5L279.5,1200.4L280.7,1200.2L281.9,1200.5L283.0,1200.8L284.2,1201.3L285.3,1201.9L286.4,1202.3L287.6,1202.7L288.7,1203.1L289.8,1203.3L290.9,1203.7L292.0,1204.1L293.1,1204.7L294.1,1205.4L295.2,1206.2L296.3,1207.0L297.3,1207.7L298.3,1208.3L299.3,1208.8L300.3,1209.3L301.3,1210.0L302.3,1210.6L303.3,1211.4L304.3,1212.2L305.2,1212.7L306.2,1212.8L307.2,1213.0L308.1,1213.8L309.1,1214.6L310.0,1215.5L311.0,1216.3L311.9,1217.2L312.9,1217.9L313.8,1218.6L314.7,1219.3L315.7,1220.1L316.7,1220.9L317.6,1221.8L318.6,1222.7L319.5,1223.4L320.5,1223.9L321.5,1224.4L322.5,1225.1L323.4,1226.0L324.4,1226.6L325.4,1226.9L326.4,1227.2L327.5,1228.0L328.5,1228.8L329.5,1229.7L330.6,1230.7L331.6,1231.3L332.7,1231.4L333.8,1231.6L334.9,1232.2L336.0,1232.7L337.1,1233.1L338.2,1233.5L339.3,1233.6L340.5,1233.6L341.7,1233.9L342.9,1234.3L344.1,1234.4L345.3,1234.4L346.5,1234.6L347.7,1234.7L348.9,1234.6L350.2,1234.3L351.4,1234.1L352.6,1233.9L353.8,1233.9L355.1,1234.0L356.3,1234.1L357.5,1234.1L358.7,1234.3L359.9,1234.6L361.1,1234.4L362.3,1234.2L363.5,1234.1L364.6,1234.0L365.8,1234.0L367.0,1233.9L368.1,1234.0L369.3,1234.2L370.5,1233.8L371.6,1233.3L372.8,1233.2L373.9,1233.4L375.1,1233.0L376.2,1232.1L377.4,1231.5L378.6,1231.2L379.7,1231.0L380.8,1230.9L382.0,1230.5L383.1,1229.9L384.2,1229.2L385.3,1228.4L386.4,1227.5L387.4,1227.0L388.5,1226.4L389.5,1225.7L390.5,1224.8L391.5,1224.1L392.4,1223.6L393.3,1223.0L394.2,1222.2L395.0,1221.3L395.8,1220.4L396.6,1219.4L397.4,1218.3L398.1,1217.2L398.8,1216.3L399.5,1215.5L400.2,1214.7L400.9,1213.8L401.5,1212.7L402.1,1211.6L402.7,1210.5L403.3,1209.4L403.9,1208.4L404.5,1207.4L405.0,1206.4L405.6,1205.4L406.1,1204.3L406.7,1203.2L407.2,1202.2L407.7,1201.1L408.3,1200.0L408.8,1198.9L409.3,1197.7L409.9,1196.6L410.4,1195.5L410.9,1194.5L411.5,1193.5L412.0,1192.5L412.6,1191.6L413.1,1190.6L413.7,1189.5L414.2,1188.4L414.8,1187.4L415.4,1186.3L415.9,1185.2L416.4,1184.1L417.0,1183.1L417.5,1182.0L418.0,1181.0L418.5,1180.0L419.1,1178.9L419.5,1177.9L420.0,1176.9L420.5,1175.6L421.0,1174.4L421.4,1173.2L421.9,1172.0L422.3,1170.7L422.7,1169.5L423.1,1168.3L423.5,1167.1L423.9,1165.9L424.3,1164.6L424.7,1163.4L425.1,1162.3L425.5,1161.2L425.8,1160.2L426.2,1159.1L426.5,1158.0L426.9,1156.9L427.2,1155.8L427.6,1154.7L427.9,1153.6L428.2,1152.5L428.5,1151.3L428.9,1150.2L429.2,1149.1L429.5,1148.0L429.8,1146.8L430.1,1145.6L430.4,1144.5L430.7,1143.3L431.0,1142.1L431.3,1140.9L431.6,1139.7L431.9,1138.6L432.2,1137.4L432.5,1136.3L432.8,1135.1L433.1,1134.0L433.4,1132.9L433.7,1131.7L434.1,1130.6L434.4,1129.5L434.7,1128.3L435.0,1127.2L435.3,1126.0L435.6,1124.9L436.0,1123.7L436.3,1122.6L436.6,1121.4L437.0,1120.3L437.3,1119.1L437.7,1117.9L438.0,1116.7L438.4,1115.4L438.8,1114.2L439.2,1113.0L439.6,1111.9L440.0,1110.8L440.4,1109.7L440.8,1108.5L441.2,1107.4L441.6,1106.3L442.0,1105.1L442.5,1103.9L442.9,1102.8L443.4,1101.6L443.8,1100.4L444.3,1099.4L444.8,1098.5L445.2,1097.6L445.7,1096.7L446.2,1095.8L446.7,1094.7L447.2,1093.5L447.7,1092.3L448.2,1091.1L448.7,1089.9L449.3,1088.7L449.8,1087.6L450.3,1086.4L450.9,1085.3L451.4,1084.2L452.0,1083.1L452.5,1082.0L453.1,1081.0L453.6,1079.9L454.2,1078.9L454.8,1078.0L455.3,1077.0L455.9,1076.0L456.5,1075.2L457.1,1074.3L457.6,1073.5L458.2,1072.7L458.8,1071.6L459.4,1070.5L460.0,1069.4L460.6,1068.3L461.2,1067.0L461.8,1065.7L462.4,1064.4L463.1,1063.1L463.7,1062.1L464.3,1061.3L464.9,1060.4L465.5,1059.6L466.2,1058.6L466.8,1057.6L467.4,1056.7L468.0,1055.7L468.7,1054.7L469.3,1053.7L469.9,1052.7L470.6,1051.7L471.2,1050.7L471.8,1049.6L472.5,1048.6L473.1,1047.5L473.7,1046.4L474.4,1045.2L475.0,1044.1L475.6,1043.1L476.3,1042.2L476.9,1041.3L477.6,1040.5L478.2,1039.3L478.8,1038.2L479.5,1037.1L480.1,1035.9L480.8,1034.7L481.4,1033.5L482.1,1032.3L482.7,1031.2L483.3,1030.4L484.0,1029.6L484.6,1028.8L485.3,1027.8L485.9,1026.8L486.6,1025.8L487.2,1024.8L487.9,1024.0L488.5,1023.2L489.2,1022.4L489.9,1021.5L490.5,1020.5L491.2,1019.5L491.8,1018.5L492.5,1017.3L493.2,1016.1L493.8,1014.8L494.5,1013.6L495.2,1012.8L495.8,1011.9L496.5,1011.1L497.2,1010.2L497.8,1009.1L498.5,1008.1L499.2,1007.1L499.9,1006.0L500.5,1004.8L501.2,1003.6L501.9,1002.5L502.6,1001.4L503.3,1000.3L504.0,999.3L504.6,998.5L505.3,997.8L506.0,997.1L506.7,996.3L507.4,995.3L508.1,994.4L508.8,993.4L509.5,992.4L510.2,991.3L510.9,990.2L511.7,989.0L512.4,987.8L513.1,986.6L513.8,985.5L514.5,984.9L515.2,984.3L516.0,983.7L516.7,982.7L517.4,981.7L518.2,980.6L518.9,979.6L519.6,978.7L520.4,977.7L521.1,976.7L521.9,975.9L522.6,975.0L523.4,974.1L524.1,973.1L524.9,972.0L525.6,971.0L526.4,970.3L527.1,969.6L527.9,968.9L528.7,968.0L529.5,967.0L530.2,966.0L531.0,965.0L531.8,964.0L532.6,963.0L533.3,962.1L534.1,961.3L534.9,960.5L535.7,959.6L536.5,958.7L537.3,957.7L538.1,956.7L538.9,955.5L539.7,954.4L540.5,953.5L541.3,952.8L542.1,952.1L542.9,951.3L543.7,950.4L544.5,949.4L545.3,948.4L546.1,947.3L546.9,946.2L547.7,945.3L548.5,944.6L549.3,943.9L550.1,943.2L550.9,942.4L551.7,941.7L552.6,940.8L553.4,939.7L554.2,938.7L555.0,938.0L555.8,937.4L556.6,936.8L557.5,936.0L558.3,935.2L559.1,934.4L559.9,933.2L560.7,932.0L561.6,930.8L562.4,930.1L563.2,929.3L564.0,928.6L564.8,927.9L565.7,927.2L566.5,926.5L567.3,925.3L568.1,924.1L568.9,922.9L569.7,921.9L570.6,920.9L571.4,920.0L572.2,919.2L573.0,918.4L573.8,917.5L574.6,916.5L575.5,915.5L576.3,914.5L577.1,913.6L577.9,912.7L578.7,911.9L579.5,911.3L580.3,910.6L581.1,909.9L581.9,908.9L582.8,907.9L583.6,907.0L584.4,906.2L585.2,905.4L586.0,904.6L586.8,903.8L587.6,902.9L588.4,902.0L589.1,900.9L589.9,899.8L590.7,898.8L591.5,898.0L592.3,897.2L593.1,896.4L593.9,895.5L594.7,894.6L595.5,893.6L596.2,892.7L597.0,891.7L597.8,890.8L598.6,889.8L599.3,888.9L600.1,888.0L600.9,887.3L601.7,886.5L602.4,885.8L603.2,884.8L604.0,883.8L604.7,882.9L605.5,882.0L606.3,881.2L607.0,880.3L607.8,879.5L608.5,878.7L609.3,877.9L610.0,877.0L610.8,876.1L611.6,875.1L612.3,874.1L613.1,872.9L613.8,871.7L614.5,870.5L615.3,869.6L616.0,868.7L616.8,867.8L617.5,867.0L618.3,866.1L619.0,865.3L619.7,864.4L620.5,863.5L621.2,862.6L621.9,861.8L622.7,860.9L623.4,860.1L624.1,859.2L624.8,858.0L625.6,856.8L626.3,855.6L627.0,854.7L627.7,853.8L628.4,852.9L629.2,852.0L629.9,851.2L630.6,850.3L631.3,849.4L632.0,848.6L632.7,847.8L633.4,846.9L634.1,846.0L634.8,845.1L635.5,844.1L636.2,843.0L636.9,841.8L637.6,840.5L638.3,839.2L639.0,838.3L639.7,837.4L640.4,836.5L641.1,835.5L641.8,834.5L642.5,833.4L643.2,832.3L643.9,831.5L644.6,830.8L645.2,830.0L645.9,829.1L646.6,828.0L647.3,827.0L648.0,825.9L648.6,824.8L649.3,823.7L650.0,822.6L650.7,821.5L651.4,820.4L652.0,819.4L652.7,818.4L653.4,817.4L654.0,816.5L654.7,815.6L655.4,814.7L656.1,813.8L656.7,812.9L657.4,811.9L658.1,810.8L658.8,809.6L659.4,808.3L660.1,807.1L660.8,806.2L661.5,805.2L662.1,804.3L662.8,803.3L663.5,802.3L664.2,801.4L664.8,800.4L665.5,799.4L666.2,798.4L666.9,797.3L667.6,796.4L668.2,795.4L668.9,794.4L669.6,793.5L670.3,792.3L671.0,791.1L671.7,789.9L672.4,788.9L673.1,787.9L673.7,787.0L674.4,786.0L675.1,784.9L675.8,783.7L676.5,782.5L677.2,781.6L678.0,780.9L678.7,780.2L679.4,779.5L680.1,778.6L680.8,777.8L681.5,777.0L682.2,775.7L683.0,774.3L683.7,772.9L684.4,771.9L685.1,771.1L685.9,770.3L686.6,769.6L687.3,768.9L688.1,768.1L688.8,767.4L689.6,766.3L690.3,765.2L691.1,764.2L691.9,763.0L692.6,761.8L693.4,760.7L694.2,760.0L694.9,759.6L695.7,759.1L696.5,758.2L697.3,756.9L698.1,755.6L698.9,754.8L699.7,754.3L700.5,753.9L701.3,753.0L702.1,751.9L702.9,750.7L703.7,749.8L704.5,748.9L705.4,748.0L706.2,747.3L707.0,746.6L707.9,745.9L708.7,745.1L709.6,744.2L710.4,743.4L711.3,742.7L712.2,742.0L713.0,741.3L713.9,740.5L714.8,739.7L715.7,738.9L716.6,738.0L717.5,737.2L718.4,736.6L719.3,736.1L720.2,735.6L721.1,734.7L722.1,733.9L723.0,733.1L724.0,732.3L724.9,731.6L725.9,730.9L726.8,730.2L727.8,729.4L728.8,728.7L729.7,728.0L730.7,727.4L731.7,726.8L732.7,726.2L733.7,725.7L734.7,725.2L735.8,724.6L736.8,723.9L737.8,723.3L738.9,722.6L739.9,722.1L741.0,721.7L742.0,721.2L743.1,720.4L744.2,719.7L745.3,719.3L746.4,718.9L747.5,718.5L748.6,718.1L749.7,717.2L750.8,716.3L752.0,715.9L753.1,715.6L754.3,715.4L755.4,715.4L756.6,714.9L757.8,713.9L758.9,713.4L760.1,713.4L761.3,713.1L762.5,712.2L763.6,711.6L764.8,711.5L766.0,711.2L767.2,710.5L768.4,710.0L769.6,709.7L770.8,709.4L771.9,709.1L773.1,708.7L774.3,708.3L775.5,708.0L776.6,708.0L777.8,707.9L778.9,707.5L780.1,707.1L781.2,706.7L782.4,706.4L783.5,705.9L784.6,705.4L785.7,705.3L786.9,705.2L788.0,704.9L789.1,704.4L790.2,703.9L791.4,703.4L792.5,702.9L793.6,702.3L794.7,701.9L795.8,701.9L797.0,701.9L798.1,701.6L799.2,701.3L800.4,700.9L801.5,700.5L802.7,700.4L803.8,700.3L805.0,700.1L806.1,699.9L807.3,699.5L808.5,699.0L809.7,698.9L810.8,699.0L812.0,698.8L813.3,698.6L814.5,698.5L815.7,698.4L816.9,698.2L818.1,698.0L819.3,697.9L820.5,697.8L821.7,697.9L822.9,698.1L824.1,698.4L825.3,698.8L826.5,699.2L827.7,699.6L828.8,699.4L830.0,699.0L831.2,699.0L832.3,699.2L833.4,699.5L834.6,700.0L835.7,700.4L836.8,700.7L837.9,701.1L839.0,701.6L840.1,702.2L841.2,702.8L842.3,703.5L843.4,703.7L844.5,703.9L845.6,704.6L846.7,705.5L847.8,706.2L848.9,706.7L850.0,707.3L851.1,708.0L852.1,708.7L853.2,709.3L854.3,709.9L855.4,710.3L856.5,710.7L857.6,711.3L858.7,712.1L859.8,712.4L860.9,712.3L862.0,712.5L863.1,713.1L864.2,713.7L865.3,714.1L866.5,714.5L867.6,715.0L868.7,715.4L869.8,715.9L871.0,716.4L872.1,716.5L873.3,716.6L874.4,717.1L875.6,717.9L876.7,718.3L877.9,718.4L879.0,718.5L880.2,718.5L881.4,718.7L882.5,718.9L883.7,718.9L884.9,718.8L886.1,718.6L887.2,718.4L888.4,718.4L889.6,719.1L890.8,719.5L892.0,719.6L893.2,719.7L894.4,719.6L895.6,719.5L896.8,719.2L898.1,719.0L899.3,719.1L900.5,719.3L901.7,719.7L902.9,719.8L904.1,719.5L905.4,719.3L906.6,719.2L907.8,719.1L909.0,718.8L910.2,718.8L911.4,719.0L912.6,719.2L913.8,719.4L915.0,719.4L916.2,719.3L917.4,719.2L918.6,719.0L919.8,719.0L921.0,719.2L922.2,719.3L923.4,719.1L924.6,719.1L925.8,719.3L927.0,719.6L928.2,719.9L929.3,720.0L930.5,719.8L931.7,719.8L932.9,720.0L934.1,720.3L935.3,720.7L936.5,720.9L937.7,720.6L938.9,720.5L940.1,720.8L941.3,720.8L942.5,720.6L943.7,720.4L944.9,720.3L946.1,720.3L947.3,720.5L948.5,720.6L949.7,720.5L950.9,720.3L952.1,719.9L953.3,719.7L954.5,719.8L955.8,720.0L957.0,720.1L958.2,720.3L959.4,720.7L960.6,720.6L961.8,720.1L963.0,719.9L964.2,720.0L965.4,720.1L966.6,720.2L967.8,720.2L969.0,720.1L970.2,720.0L971.4,719.8L972.6,720.0L973.8,720.5L975.0,720.7L976.2,720.6L977.4,720.2L978.6,719.4L979.8,719.4L981.0,720.3L982.1,720.7L983.3,720.7L984.5,720.8L985.7,721.1L986.8,721.2L988.0,721.1L989.2,721.2L990.3,721.5L991.5,721.9L992.7,722.3L993.8,722.7L995.0,722.8L996.2,723.0L997.3,723.2L998.5,723.4L999.7,723.5L1000.8,723.6L1002.0,723.8L1003.2,724.0L1004.3,724.3L1005.5,724.5L1006.7,724.4L1007.9,724.2L1009.0,725.0L1010.2,726.1L1011.4,726.1L1012.6,725.9L1013.7,726.1L1014.9,726.4L1016.1,726.7L1017.3,726.9L1018.5,727.3L1019.7,727.6L1020.8,727.5L1022.0,727.2L1023.2,727.7L1024.4,728.5L1025.6,728.6L1026.8,728.5L1028.0,728.7L1029.2,729.0L1030.4,729.1L1031.6,729.0L1032.8,729.1L1034.0,729.2L1035.2,729.6L1036.4,730.1L1037.6,730.1L1038.7,729.7L1039.9,729.5L1041.0,729.3L1042.1,729.0L1043.2,728.5L1044.3,728.0L1045.4,727.4L1046.5,726.7L1047.6,726.3L1048.7,725.8L1049.8,725.2L1050.9,724.6L1052.0,724.3L1053.2,724.0L1054.3,723.5L1055.4,722.7L1056.6,722.3L1057.7,722.3L1058.9,722.3L1060.0,722.3L1061.2,722.1L1062.3,721.9L1063.5,721.7L1064.7,721.4L1065.8,721.1L1067.0,720.7L1068.2,720.2L1069.3,719.7L1070.5,719.2L1071.7,719.4L1072.9,719.6L1074.0,719.3L1075.2,719.0L1076.4,718.8L1077.6,718.6L1078.8,718.1L1079.9,717.6L1081.1,717.8L1082.3,718.0L1083.5,718.1L1084.7,718.2L1085.9,718.0L1087.1,717.8L1088.3,717.5L1089.5,717.1L1090.7,717.2L1091.9,717.3L1093.0,717.1L1094.2,716.9L1095.4,716.9L1096.6,716.8L1097.8,716.9L1099.0,717.0L1100.2,716.9L1101.4,716.7L1102.6,716.6L1103.8,716.5L1105.0,716.5L1106.2,716.6L1107.5,716.3L1108.7,716.0L1109.9,715.9L1111.1,715.8L1112.3,716.1L1113.5,716.4L1114.7,716.2L1115.9,715.9L1117.1,716.1L1118.3,716.3L1119.5,715.8L1120.7,715.3L1121.9,715.8L1123.1,716.5L1124.3,716.2L1125.5,715.9L1126.7,716.2L1127.9,716.6L1129.1,715.7L1130.3,714.7L1131.5,714.8L1132.7,714.9L1133.9,715.5L1135.1,716.1L1136.3,715.8L1137.5,715.5L1138.7,715.4L1139.9,715.4L1141.1,715.3L1142.3,715.2L1143.5,715.1L1144.7,715.0L1145.9,715.0L1147.1,715.0L1148.3,714.6L1149.5,714.2L1150.7,714.2L1151.9,714.3L1153.1,714.5L1154.3,714.8L1155.5,714.4L1156.7,714.1L1157.9,713.8L1159.1,713.5L1160.3,713.5L1161.5,713.6L1162.7,713.7L1163.9,713.8L1165.1,713.4L1166.3,713.0L1167.5,712.9L1168.7,712.8L1169.9,712.8L1171.1,712.8L1172.3,712.8L1173.4,712.8L1174.6,712.8L1175.8,712.8L1177.0,712.4L1178.2,711.9L1179.4,711.8L1180.6,711.8L1181.8,711.8L1183.0,711.8L1184.2,711.2L1185.4,710.4L1186.6,710.5L1187.8,710.8L1189.0,710.8L1190.1,710.8L1191.3,710.6L1192.5,710.3L1193.7,710.0L1194.9,709.7L1196.1,709.8L1197.3,710.0L1198.5,710.0L1199.7,710.0L1200.9,709.7L1202.1,709.3L1203.3,709.0L1204.5,708.8L1205.6,708.7L1206.8,708.6L1208.0,708.8L1209.2,709.1L1210.4,709.0L1211.6,708.8L1212.8,708.5L1214.0,708.1L1215.2,707.7L1216.4,707.4L1217.6,707.1L1218.8,707.0L1220.0,707.0L1221.2,707.1L1222.3,707.0L1223.5,706.9L1224.7,706.9L1225.9,706.9L1227.1,706.7L1228.3,706.3L1229.5,706.2L1230.7,706.3L1231.9,706.4L1233.1,706.4L1234.3,706.1L1235.5,705.5L1236.7,705.7L1237.9,706.5L1239.1,706.6L1240.3,706.1L1241.5,705.9L1242.7,705.8L1243.9,705.5L1245.0,705.0L1246.2,704.8L1247.4,704.8L1248.6,705.0L1249.8,705.4L1251.0,705.5L1252.2,705.4L1253.4,705.0L1254.6,704.2L1255.8,704.2L1257.0,705.0L1258.2,705.3L1259.4,705.1L1260.6,705.0L1261.8,705.0L1263.0,704.7L1264.2,704.3L1265.4,704.3L1266.6,704.5L1267.8,704.6L1269.0,704.3L1270.2,704.4L1271.4,704.6L1272.6,704.9L1273.8,705.1L1275.0,705.1L1276.2,704.8L1277.4,704.8L1278.7,704.8L1279.9,704.7L1281.1,704.4L1282.3,704.2L1283.5,704.0L1284.7,704.0L1285.9,704.3L1287.1,704.5L1288.3,704.7L1289.5,704.9L1290.7,705.0L1291.9,704.8L1293.1,704.5L1294.3,704.3L1295.5,704.4L1296.7,704.3L1297.9,704.2L1299.1,704.0L1300.3,703.6L1301.5,703.7L1302.7,704.1L1303.9,704.3L1305.1,704.4L1306.3,704.3L1307.5,704.1L1308.7,704.0L1309.9,704.1L1311.1,703.9L1312.3,703.5L1313.5,703.5L1314.7,703.9L1315.9,704.2L1317.1,704.5L1318.3,704.4L1319.5,704.1L1320.7,704.0L1321.9,704.0L1323.1,704.0L1324.3,704.0L1325.5,703.7L1326.7,703.4L1327.8,703.3L1329.0,703.5L1330.2,703.4L1331.4,703.1L1332.6,703.4L1333.8,704.1L1335.0,704.1L1336.2,703.4L1337.4,702.9L1338.6,702.5L1339.8,702.2L1341.0,702.0L1342.1,702.2L1343.3,702.7L1344.5,702.9L1345.7,702.6L1346.9,702.3L1348.1,702.1L1349.3,701.8L1350.4,701.3L1351.6,700.9L1352.8,701.0L1354.0,700.9L1355.2,700.6L1356.4,700.5L1357.5,700.8L1358.7,700.9L1359.9,700.4L1361.1,700.0L1362.3,700.4L1363.4,700.5L1364.6,700.0L1365.8,699.5L1367.0,699.1L1368.1,698.8L1369.3,698.9L1370.5,699.0L1371.6,698.0L1372.8,697.0L1374.0,697.1L1375.1,697.1L1376.3,696.9L1377.5,696.8L1378.6,696.8L1379.8,696.8L1381.0,696.6L1382.1,696.3L1383.3,695.9L1384.5,695.5L1385.6,694.8L1386.8,694.0L1387.9,693.7L1389.1,693.7L1390.2,693.4L1391.4,693.0L1392.5,692.8L1393.7,693.0L1394.9,692.8L1396.0,692.1L1397.2,691.5L1398.3,691.4L1399.4,691.3L1400.6,691.2L1401.7,691.0L1402.9,690.2L1404.0,689.4L1405.2,689.2L1406.3,689.0L1407.5,688.4L1408.6,687.8L1409.8,687.5L1410.9,687.2L1412.0,686.8L1413.2,686.5L1414.3,686.1L1415.5,685.8L1416.6,685.4L1417.8,685.1L1419.0,684.8L1420.1,684.4L1421.3,684.2L1422.4,684.4L1423.6,684.3L1424.8,683.5L1425.9,682.9L1427.1,682.9L1428.3,682.8L1429.5,682.5L1430.6,682.1L1431.8,681.5L1433.0,681.2L1434.2,681.8L1435.4,682.3L1436.6,682.1L1437.8,681.8L1439.0,681.4L1440.2,681.2L1441.4,681.4L1442.6,681.5L1443.8,681.4L1445.0,681.4L1446.2,682.0L1447.4,682.5L1448.6,683.0L1449.8,683.4L1450.9,683.5L1452.1,683.7L1453.3,683.4L1454.4,683.1L1455.6,683.3L1456.7,683.5L1457.9,684.3L1459.1,685.0L1460.3,685.6L1461.5,686.1L1462.7,686.0L1463.9,685.9L1465.1,686.2L1466.3,686.7L1467.6,686.3L1468.8,686.0L1470.0,686.5L1471.3,687.0L1472.5,687.3L1473.7,687.7L1474.8,687.8L1476.0,688.0L1477.1,688.5L1478.1,689.0L1479.1,689.7L1480.0,690.5L1480.9,691.3L1481.8,691.9L1482.6,692.5L1483.4,693.2L1484.2,694.1L1484.9,695.0L1485.6,695.9L1486.3,697.1L1487.0,698.4L1487.6,699.6L1488.3,700.7L1489.0,701.7L1489.7,702.6L1490.4,703.5L1491.1,704.2L1491.9,704.9L1492.7,705.5L1493.6,706.5L1494.5,707.4L1495.5,708.1L1496.6,708.3L1497.7,708.6L1498.8,709.2L1500.0,709.8L1501.2,710.0L1502.4,710.1L1503.6,710.4L1504.7,710.7L1505.9,711.0L1507.0,711.3L1508.1,712.0L1509.2,712.7L1510.2,713.3L1511.3,713.8L1512.3,714.5L1513.2,715.6L1514.2,716.7L1515.1,717.3L1515.9,717.8L1516.8,718.3L1517.7,719.0L1518.5,719.6L1519.4,720.4L1520.2,721.9L1521.1,723.3L1522.0,724.2L1522.9,724.3L1523.8,724.4L1524.7,725.6L1525.6,727.0L1526.6,728.3L1527.5,728.6L1528.4,729.0L1529.3,729.8L1530.3,731.0L1531.2,732.2L1532.0,732.8L1532.9,733.4L1533.8,734.0L1534.6,735.0L1535.5,736.0L1536.3,736.9L1537.1,737.7L1537.9,738.5L1538.7,739.4L1539.5,740.2L1540.2,741.1L1541.0,742.1L1541.7,743.1L1542.5,744.1L1543.2,745.1L1543.9,745.9L1544.6,746.7L1545.3,747.5L1546.0,748.5L1546.7,749.7L1547.4,750.8L1548.0,751.9L1548.7,752.7L1549.3,753.5L1550.0,754.3L1550.6,755.2L1551.2,756.3L1551.9,757.3L1552.5,758.4L1553.1,759.4L1553.7,760.5L1554.3,761.6L1554.9,762.6L1555.5,763.7L1556.1,764.8L1556.6,765.9L1557.2,767.0L1557.8,768.1L1558.3,769.3L1558.9,770.5L1559.5,771.7L1560.0,772.9L1560.6,773.7L1561.1,774.6L1561.7,775.4L1562.2,776.3L1562.8,777.3L1563.3,778.4L1563.9,779.4L1564.4,780.5L1565.0,781.6L1565.5,782.6L1566.0,783.7L1566.6,784.7L1567.1,785.8L1567.7,786.9L1568.2,788.0L1568.7,789.2L1569.3,790.3L1569.8,791.5L1570.3,792.7L1570.9,793.8L1571.4,795.0L1571.9,796.2L1572.5,797.2L1573.0,798.1L1573.5,799.1L1574.0,800.0L1574.6,801.0L1575.1,802.1L1575.6,803.3L1576.1,804.4L1576.7,805.5L1577.2,806.6L1577.7,807.6L1578.2,808.7L1578.8,809.7L1579.3,810.8L1579.8,811.9L1580.3,813.1L1580.9,814.2L1581.4,815.4L1581.9,816.4L1582.4,817.2L1582.9,818.1L1583.5,819.0L1584.0,819.9L1584.5,821.2L1585.0,822.5L1585.5,823.9L1586.1,825.2L1586.6,826.5L1587.1,827.6L1587.6,828.7L1588.1,829.8L1588.7,830.9L1589.2,831.9L1589.7,832.8L1590.2,833.7L1590.7,834.6L1591.2,835.6L1591.8,836.7L1592.3,837.9L1592.8,839.0L1593.3,840.2L1593.8,841.3L1594.3,842.3L1594.9,843.3L1595.4,844.3L1595.9,845.3L1596.4,846.5L1596.9,847.8L1597.4,849.1L1598.0,850.3L1598.5,851.6L1599.0,852.6L1599.5,853.7L1600.0,854.7L1600.5,855.7L1601.1,856.9L1601.6,858.2L1602.1,859.5L1602.6,860.8L1603.1,862.1L1603.7,863.0L1604.2,863.8L1604.7,864.5L1605.2,865.3L1605.7,866.2L1606.3,867.2L1606.8,868.2L1607.3,869.2L1607.8,870.2L1608.3,871.3L1608.9,872.4L1609.4,873.5L1609.9,874.7L1610.4,875.8L1611.0,876.8L1611.5,877.8L1612.0,878.8L1612.5,879.8L1613.1,880.9L1613.6,882.1L1614.1,883.3L1614.6,884.5L1615.2,885.8L1615.7,886.9L1616.2,887.9L1616.8,889.0L1617.3,890.1L1617.8,891.2L1618.4,892.4L1618.9,893.5L1619.4,894.6L1620.0,895.8L1620.5,896.8L1621.1,897.8L1621.6,898.8L1622.1,899.8L1622.7,900.8L1623.2,901.8L1623.8,902.8L1624.3,903.8L1624.8,904.8L1625.4,906.0L1625.9,907.3L1626.5,908.5L1627.0,909.8L1627.6,910.8L1628.1,911.8L1628.7,912.8L1629.2,913.8L1629.8,914.8L1630.3,915.9L1630.9,917.0L1631.5,918.1L1632.0,919.2L1632.6,920.0L1633.1,920.9L1633.7,921.7L1634.3,922.6L1634.8,923.6L1635.4,924.7L1636.0,925.8L1636.5,926.9L1637.1,928.0L1637.7,929.0L1638.2,930.1L1638.8,931.2L1639.4,932.3L1640.0,933.3L1640.5,934.4L1641.1,935.5L1641.7,936.5L1642.3,937.4L1642.9,938.2L1643.4,939.1L1644.0,940.0L1644.6,941.4L1645.2,942.8L1645.8,944.2L1646.4,945.6L1647.0,946.5L1647.6,947.4L1648.2,948.3L1648.8,949.2L1649.4,950.3L1650.0,951.5L1650.6,952.7L1651.2,953.8L1651.8,954.8L1652.4,955.9L1653.0,956.9L1653.6,957.9L1654.2,959.0L1654.8,960.1L1655.5,961.3L1656.1,962.4L1656.7,963.3L1657.3,964.2L1657.9,965.1L1658.6,966.1L1659.2,967.1L1659.8,968.1L1660.4,969.1L1661.1,970.0L1661.7,970.9L1662.3,971.8L1662.9,972.7L1663.6,973.7L1664.2,974.9L1664.8,976.0L1665.5,977.1L1666.1,978.3L1666.7,979.5L1667.4,980.7L1668.0,981.9L1668.7,982.5L1669.3,983.1L1669.9,983.7L1670.6,984.5L1671.2,985.6L1671.9,986.7L1672.5,987.9L1673.2,989.0L1673.8,990.2L1674.4,991.3L1675.1,992.4L1675.7,993.6L1676.4,994.8L1677.0,995.9L1677.7,997.1L1678.3,997.7L1679.0,998.4L1679.6,999.1L1680.3,1000.0L1680.9,1001.0L1681.6,1002.1L1682.2,1003.2L1682.9,1004.3L1683.5,1005.4L1684.2,1006.5L1684.8,1007.6L1685.5,1009.0L1686.2,1010.3L1686.8,1011.7L1687.5,1012.7L1688.1,1013.3L1688.8,1013.8L1689.4,1014.3L1690.1,1015.2L1690.7,1016.3L1691.4,1017.4L1692.0,1018.5L1692.7,1019.6L1693.3,1020.8L1694.0,1021.9L1694.6,1022.9L1695.3,1023.7L1695.9,1024.6L1696.6,1025.4L1697.2,1026.4L1697.9,1027.6L1698.5,1028.7L1699.2,1029.9L1699.8,1030.9L1700.5,1031.9L1701.1,1032.9L1701.7,1033.9L1702.4,1034.8L1703.0,1035.8L1703.6,1036.7L1704.3,1037.7L1704.9,1038.8L1705.5,1039.9L1706.2,1041.0L1706.8,1042.2L1707.4,1043.3L1708.0,1044.5L1708.6,1045.7L1709.2,1046.7L1709.8,1047.5L1710.4,1048.4L1711.0,1049.2L1711.6,1050.2L1712.2,1051.2L1712.8,1052.1L1713.4,1053.1L1713.9,1054.1L1714.5,1055.1L1715.1,1056.2L1715.6,1057.2L1716.2,1058.3L1716.7,1059.4L1717.3,1060.6L1717.8,1061.7L1718.4,1062.9L1718.9,1064.1L1719.4,1065.2L1719.9,1066.4L1720.4,1067.5L1720.9,1068.6L1721.4,1069.7L1721.9,1070.7L1722.4,1071.7L1722.9,1072.7L1723.4,1073.7L1723.8,1074.9L1724.3,1076.0" stroke="#f14040"/>
<path d="M111.1,1182.4L112.3,1182.9L113.5,1182.9L114.7,1182.6L115.9,1182.7L117.1,1183.0L118.3,1182.9L119.5,1182.5L120.7,1182.5L121.9,1182.8L123.1,1183.0L124.3,1183.2L125.5,1183.2L126.7,1183.1L127.9,1183.2L129.1,1183.4L130.3,1183.9L131.5,1184.5L132.7,1184.8L133.9,1184.8L135.1,1184.8L136.3,1184.8L137.5,1184.8L138.6,1184.9L139.8,1185.0L141.0,1185.1L142.2,1185.3L143.4,1185.5L144.6,1185.9L145.7,1186.7L146.9,1187.0L148.1,1186.8L149.3,1186.9L150.5,1187.1L151.6,1187.3L152.8,1187.3L154.0,1187.5L155.2,1187.8L156.3,1188.1L157.5,1188.4L158.7,1188.7L159.9,1188.8L161.0,1188.9L162.2,1189.3L163.4,1189.6L164.5,1189.8L165.7,1190.0L166.9,1190.3L168.1,1190.5L169.2,1190.7L170.4,1190.9L171.6,1191.4L172.7,1191.9L173.9,1192.1L175.1,1192.2L176.2,1192.7L177.4,1193.1L178.6,1193.3L179.7,1193.5L180.9,1193.6L182.1,1193.7L183.2,1194.1L184.4,1194.6L185.6,1194.9L186.7,1195.2L187.9,1195.6L189.1,1196.0L190.2,1196.3L191.4,1196.4L192.6,1196.6L193.7,1197.0L194.9,1197.3L196.1,1197.8L197.2,1198.2L198.4,1198.4L199.5,1198.6L200.7,1198.7L201.9,1198.9L203.0,1199.4L204.2,1199.9L205.4,1199.9L206.6,1199.9L207.7,1200.2L208.9,1200.5L210.1,1201.0L211.2,1201.4L212.4,1201.5L213.6,1201.6L214.7,1201.6L215.9,1201.6L217.1,1202.1L218.2,1202.6L219.4,1202.9L220.6,1203.2L221.8,1203.7L222.9,1204.1L224.1,1204.2L225.3,1204.1L226.5,1204.1L227.6,1204.2L228.8,1204.7L230.0,1205.4L231.2,1205.6L232.4,1205.7L233.5,1205.9L234.7,1206.2L235.9,1206.4L237.1,1206.4L238.3,1206.6L239.4,1206.8L240.6,1207.0L241.8,1207.2L243.0,1207.3L244.2,1207.5L245.4,1207.6L246.5,1207.7L247.7,1207.9L248.9,1208.3L250.1,1208.5L251.3,1208.4L252.5,1208.4L253.7,1208.6L254.8,1208.8L256.0,1209.1L257.2,1209.5L258.4,1210.0L259.6,1210.1L260.8,1209.5L262.0,1209.2L263.2,1209.6L264.4,1209.9L265.6,1209.8L266.7,1210.0L267.9,1210.5L269.1,1211.0L270.3,1211.0L271.5,1210.9L272.7,1210.9L273.9,1211.0L275.1,1211.6L276.3,1212.0L277.5,1211.7L278.7,1211.7L279.9,1212.5L281.1,1213.0L282.3,1212.9L283.4,1212.8L284.6,1212.9L285.8,1213.0L287.0,1213.0L288.2,1213.1L289.4,1213.4L290.6,1213.7L291.8,1213.7L293.0,1213.7L294.2,1213.6L295.4,1213.5L296.6,1213.8L297.8,1214.1L299.0,1214.2L300.1,1214.3L301.3,1214.5L302.5,1214.8L303.7,1214.9L304.9,1215.0L306.1,1215.2L307.3,1215.4L308.5,1215.6L309.6,1215.9L310.8,1215.9L312.0,1215.9L313.2,1216.4L314.4,1217.0L315.6,1216.7L316.7,1216.4L317.9,1216.7L319.1,1217.1L320.3,1217.2L321.5,1217.2L322.7,1217.7L323.9,1218.2L325.1,1218.2L326.3,1218.0L327.5,1218.2L328.7,1218.3L329.9,1218.1L331.1,1217.8L332.3,1217.9L333.5,1217.9L334.7,1217.7L335.8,1217.4L336.9,1216.9L338.0,1216.4L339.1,1216.0L340.1,1215.5L341.1,1214.9L342.1,1214.1L343.0,1213.4L343.9,1212.4L344.8,1211.4L345.6,1210.4L346.4,1209.3L347.2,1208.3L348.0,1207.3L348.7,1206.4L349.4,1205.5L350.1,1204.6L350.7,1203.7L351.4,1202.9L352.0,1202.0L352.6,1201.2L353.2,1200.2L353.7,1199.0L354.3,1197.8L354.8,1196.7L355.3,1195.5L355.9,1194.5L356.4,1193.5L356.9,1192.5L357.4,1191.5L357.9,1190.3L358.4,1189.0L358.9,1187.8L359.4,1186.5L359.9,1185.2L360.4,1184.2L360.9,1183.2L361.4,1182.3L361.9,1181.3L362.4,1180.3L362.9,1179.2L363.4,1178.1L363.9,1176.9L364.4,1175.8L364.9,1174.6L365.4,1173.5L365.9,1172.5L366.4,1171.4L366.9,1170.3L367.4,1169.2L368.0,1168.1L368.5,1167.0L369.0,1165.9L369.5,1164.8L370.0,1163.7L370.5,1162.6L371.1,1161.6L371.6,1160.5L372.1,1159.4L372.6,1158.4L373.1,1157.4L373.7,1156.4L374.2,1155.4L374.7,1154.4L375.2,1153.4L375.8,1152.4L376.3,1151.4L376.8,1150.4L377.3,1149.2L377.8,1148.1L378.4,1146.9L378.9,1145.8L379.4,1144.7L379.9,1143.7L380.5,1142.7L381.0,1141.6L381.5,1140.6L382.1,1139.5L382.6,1138.4L383.1,1137.3L383.6,1136.2L384.2,1135.1L384.7,1133.9L385.2,1132.8L385.7,1131.6L386.3,1130.4L386.8,1129.3L387.3,1128.2L387.8,1127.1L388.3,1126.0L388.9,1124.9L389.4,1124.0L389.9,1123.0L390.4,1122.1L391.0,1121.1L391.5,1120.1L392.0,1119.0L392.5,1118.0L393.0,1116.9L393.5,1115.9L394.1,1114.9L394.6,1113.9L395.1,1112.9L395.6,1111.9L396.1,1110.9L396.6,1109.6L397.1,1108.4L397.7,1107.2L398.2,1106.0L398.7,1104.8L399.2,1103.6L399.7,1102.5L400.2,1101.3L400.7,1100.1L401.2,1099.0L401.7,1098.0L402.2,1096.9L402.7,1095.8L403.2,1094.8L403.7,1093.8L404.2,1092.7L404.7,1091.7L405.2,1090.7L405.7,1089.7L406.2,1088.5L406.6,1087.3L407.1,1086.1L407.6,1084.9L408.1,1083.7L408.6,1082.6L409.1,1081.5L409.5,1080.4L410.0,1079.4L410.5,1078.2L411.0,1076.9L411.4,1075.6L411.9,1074.2L412.4,1072.9L412.8,1071.6L413.3,1070.6L413.8,1069.6L414.2,1068.6L414.7,1067.6L415.2,1066.6L415.6,1065.7L416.1,1064.9L416.5,1064.0L417.0,1063.2L417.4,1062.3L417.9,1061.2L418.3,1059.9L418.7,1058.6L419.2,1057.3L419.6,1056.1L420.1,1054.8L420.5,1053.7L420.9,1052.6L421.4,1051.5L421.8,1050.4L422.2,1049.3L422.6,1048.1L423.0,1047.0L423.5,1045.9L423.9,1044.7L424.3,1043.6L424.7,1042.5L425.1,1041.4L425.5,1040.3L425.9,1039.3L426.3,1038.2L426.7,1037.1L427.1,1036.0L427.5,1034.9L427.8,1033.7L428.2,1032.5L428.6,1031.4L429.0,1030.2L429.3,1029.0L429.7,1027.8L430.1,1026.7L430.4,1025.5L430.8,1024.4L431.1,1023.2L431.5,1022.1L431.8,1020.9L432.2,1019.8L432.5,1018.6L432.9,1017.5L433.2,1016.4L433.5,1015.2L433.8,1014.1L434.2,1012.9L434.5,1011.8L434.8,1010.6L435.1,1009.5L435.4,1008.3L435.7,1007.2L436.0,1006.0L436.3,1004.8L436.6,1003.7L436.8,1002.5L437.1,1001.4L437.4,1000.3L437.7,999.2L438.0,998.1L438.3,996.9L438.6,995.8L438.9,994.7L439.2,993.6L439.5,992.4L439.8,991.2L440.1,990.0L440.4,988.8L440.8,987.6L441.1,986.4L441.5,985.2L441.8,984.0L442.2,982.8L442.5,981.7L442.9,980.5L443.3,979.4L443.7,978.2L444.1,977.1L444.6,976.0L445.0,974.9L445.5,973.8L446.0,972.7L446.4,971.7L447.0,970.7L447.5,969.7L448.0,968.7L448.6,967.7L449.1,966.7L449.7,965.6L450.4,964.6L451.0,963.5L451.6,962.5L452.3,961.4L453.0,960.4L453.7,959.4L454.5,958.3L455.2,957.2L456.0,956.1L456.8,955.2L457.6,954.2L458.4,953.4L459.3,952.7L460.2,952.1L461.0,951.4L461.9,950.6L462.8,949.7L463.8,949.0L464.7,948.5L465.7,948.0L466.6,947.0L467.6,946.0L468.6,945.3L469.6,944.8L470.6,944.2L471.6,943.5L472.7,942.8L473.7,942.3L474.8,941.8L475.8,941.3L476.9,940.8L478.0,940.4L479.1,940.0L480.2,939.7L481.3,939.4L482.4,939.1L483.6,938.5L484.7,938.1L485.9,937.9L487.0,937.9L488.2,937.8L489.4,937.7L490.5,937.8L491.7,938.0L492.9,937.9L494.1,937.8L495.4,937.6L496.6,937.4L497.8,937.7L499.1,938.2L500.3,938.3L501.6,938.4L502.9,938.3L504.1,938.3L505.4,938.9L506.7,939.3L508.0,938.9L509.3,939.0L510.6,939.6L511.9,940.2L513.1,940.7L514.4,940.7L515.7,940.5L516.9,940.6L518.2,940.9L519.4,941.3L520.6,941.7L521.8,941.5L523.0,941.1L524.1,941.0L525.3,940.9L526.4,940.7L527.4,940.4L528.5,940.1L529.5,939.9L530.5,939.5L531.5,938.5L532.5,937.5L533.5,936.7L534.4,935.9L535.4,935.3L536.3,935.0L537.3,934.7L538.2,933.9L539.2,932.9L540.1,932.0L541.1,931.0L542.1,930.1L543.0,929.5L544.0,929.0L545.1,928.5L546.1,928.1L547.1,927.6L548.2,926.9L549.3,926.2L550.3,925.8L551.4,925.5L552.5,925.0L553.6,924.3L554.7,923.7L555.9,923.4L557.0,923.1L558.1,922.3L559.3,921.6L560.4,921.6L561.6,921.6L562.7,921.2L563.9,920.8L565.1,920.9L566.2,921.2L567.4,920.8L568.6,920.4L569.8,920.2L571.0,920.1L572.2,919.8L573.4,919.5L574.6,919.1L575.8,918.8L577.0,918.6L578.2,918.5L579.4,918.5L580.6,918.4L581.8,918.3L583.0,918.2L584.2,918.1L585.4,918.0L586.6,918.3L587.8,918.6L589.0,918.2L590.2,917.6L591.4,917.5L592.6,917.5L593.8,917.3L595.0,917.2L596.2,917.3L597.4,917.5L598.6,917.3L599.8,917.0L601.0,916.8L602.2,916.6L603.3,916.9L604.5,917.2L605.7,917.0L606.9,916.5L608.0,916.3L609.2,916.1L610.4,916.0L611.5,915.9L612.7,915.6L613.8,915.3L615.0,915.0L616.1,914.6L617.3,914.2L618.4,913.9L619.5,913.5L620.7,913.2L621.8,912.8L622.9,912.4L624.0,912.0L625.1,911.4L626.3,910.8L627.4,910.5L628.5,910.3L629.6,909.7L630.7,909.1L631.8,908.7L632.9,908.5L634.0,908.2L635.1,907.8L636.2,907.4L637.3,906.8L638.4,906.2L639.5,905.8L640.7,905.4L641.8,904.9L642.9,904.3L644.0,903.8L645.1,903.3L646.3,902.5L647.4,901.7L648.5,901.1L649.7,900.9L650.8,900.7L651.9,900.6L653.1,900.5L654.2,900.2L655.4,899.9L656.5,899.9L657.7,899.8L658.8,899.2L660.0,898.7L661.2,898.4L662.3,898.1L663.5,897.8L664.6,897.6L665.8,897.3L667.0,897.0L668.2,897.0L669.3,897.0L670.5,897.1L671.7,897.3L672.9,896.8L674.0,896.1L675.2,895.9L676.4,895.8L677.6,895.8L678.8,895.9L680.0,895.6L681.2,895.3L682.4,895.1L683.6,894.9L684.8,894.9L685.9,894.9L687.1,894.9L688.3,894.7L689.5,894.6L690.7,894.5L691.9,894.3L693.1,894.0L694.4,894.0L695.6,894.1L696.8,894.2L698.0,894.1L699.2,894.0L700.4,893.9L701.6,894.0L702.8,894.1L704.0,894.0L705.2,893.8L706.4,893.6L707.6,893.4L708.9,893.5L710.1,893.8L711.3,893.7L712.5,893.4L713.7,893.4L714.9,893.4L716.1,893.5L717.3,893.6L718.6,893.4L719.8,893.1L721.0,893.5L722.2,894.0L723.4,893.8L724.6,893.6L725.8,893.7L727.0,893.9L728.2,893.9L729.5,893.7L730.7,893.9L731.9,894.0L733.1,893.7L734.3,893.4L735.5,893.6L736.7,893.9L737.9,894.1L739.1,894.3L740.3,893.9L741.5,893.4L742.7,893.8L744.0,894.2L745.2,894.2L746.4,894.1L747.6,894.0L748.8,893.9L750.0,894.1L751.2,894.3L752.4,894.2L753.6,894.0L754.8,893.8L756.0,893.5L757.2,893.8L758.4,894.0L759.5,893.8L760.7,893.6L761.9,893.7L763.1,893.8L764.3,893.7L765.5,893.5L766.7,893.2L767.9,893.0L769.1,893.1L770.3,893.2L771.4,893.4L772.6,893.5L773.8,893.1L775.0,892.7L776.2,893.0L777.3,893.4L778.5,893.2L779.7,892.9L780.9,892.8L782.0,892.8L783.2,892.6L784.4,892.5L785.6,892.4L786.7,892.3L787.9,892.0L789.1,891.7L790.2,891.3L791.4,891.0L792.6,890.8L793.7,890.6L794.9,890.5L796.0,890.6L797.2,890.4L798.3,890.1L799.5,889.7L800.7,889.7L801.8,889.6L803.0,889.3L804.1,889.0L805.3,888.9L806.4,888.8L807.6,888.2L808.8,887.6L809.9,887.2L811.1,886.7L812.2,886.8L813.4,887.0L814.6,886.6L815.7,886.1L816.9,885.5L818.1,884.9L819.2,884.6L820.4,884.6L821.6,884.6L822.8,884.7L824.0,884.1L825.1,883.1L826.3,882.8L827.5,882.9L828.7,882.5L829.9,881.9L831.1,881.3L832.3,880.6L833.5,880.3L834.6,880.2L835.8,879.9L837.0,879.5L838.1,879.2L839.3,878.8L840.4,878.3L841.5,877.6L842.6,876.9L843.7,876.7L844.8,876.5L845.9,875.8L846.9,875.0L847.9,874.1L849.0,873.2L850.0,872.5L850.9,872.1L851.9,871.8L852.9,870.9L853.8,870.0L854.7,869.2L855.7,868.6L856.6,867.9L857.5,867.2L858.3,866.5L859.2,865.7L860.1,865.0L860.9,864.3L861.7,863.5L862.5,862.7L863.3,861.9L864.1,861.1L864.9,860.0L865.7,859.0L866.4,858.0L867.2,857.2L867.9,856.5L868.7,855.8L869.4,854.7L870.1,853.6L870.8,852.5L871.5,851.4L872.1,850.5L872.8,849.5L873.5,848.5L874.1,847.5L874.8,846.5L875.4,845.6L876.0,844.5L876.6,843.4L877.3,842.2L877.9,841.1L878.5,839.9L879.0,838.8L879.6,837.7L880.2,836.6L880.8,835.5L881.3,834.6L881.9,833.8L882.4,832.9L883.0,832.0L883.5,831.0L884.1,829.9L884.6,828.7L885.1,827.5L885.6,826.4L886.1,825.4L886.6,824.4L887.1,823.3L887.6,822.3L888.1,821.3L888.6,820.2L889.1,819.1L889.6,818.0L890.1,816.9L890.6,815.7L891.0,814.4L891.5,813.1L892.0,811.8L892.4,810.5L892.9,809.3L893.3,808.3L893.8,807.3L894.2,806.4L894.7,805.4L895.1,804.4L895.6,803.3L896.0,802.1L896.4,801.0L896.9,799.8L897.3,798.6L897.7,797.5L898.1,796.2L898.5,795.0L898.9,793.7L899.4,792.5L899.8,791.2L900.2,790.1L900.6,789.1L901.0,788.1L901.4,787.1L901.7,786.1L902.1,785.1L902.5,784.1L902.9,783.0L903.3,781.9L903.7,780.8L904.0,779.7L904.4,778.6L904.8,777.5L905.1,776.4L905.5,775.3L905.9,774.1L906.2,773.0L906.6,771.9L907.0,770.7L907.3,769.6L907.7,768.4L908.0,767.3L908.4,766.1L908.7,764.9L909.1,763.8L909.4,762.6L909.8,761.4L910.1,760.3L910.4,759.1L910.8,757.9L911.1,756.8L911.4,755.6L911.8,754.4L912.1,753.3L912.4,752.0L912.8,750.8L913.1,749.5L913.4,748.2L913.7,747.0L914.1,745.7L914.4,744.5L914.7,743.4L915.0,742.4L915.3,741.3L915.7,740.3L916.0,739.2L916.3,738.2L916.6,737.1L916.9,736.0L917.2,734.8L917.5,733.6L917.8,732.4L918.1,731.2L918.4,730.0L918.7,728.8L919.0,727.7L919.3,726.4L919.6,725.2L919.9,724.0L920.2,722.8L920.5,721.5L920.8,720.3L921.1,719.1L921.4,717.8L921.7,716.7L922.0,715.7L922.3,714.8L922.6,713.8L922.8,712.9L923.1,711.9L923.4,711.0L923.7,710.0L924.0,709.1L924.3,707.8L924.6,706.5L924.8,705.2L925.1,703.9L925.4,702.5L925.7,701.2L925.9,699.9L926.2,698.6L926.5,697.4L926.8,696.2L927.0,695.1L927.3,693.9L927.6,692.8L927.9,691.6L928.1,690.5L928.4,689.3L928.7,688.2L928.9,687.0L929.2,685.8L929.5,684.6L929.8,683.4L930.0,682.2L930.3,681.0L930.6,679.8L930.8,678.7L931.1,677.5L931.3,676.3L931.6,675.1L931.9,674.0L932.1,672.8L932.4,671.7L932.7,670.5L932.9,669.4L933.2,668.2L933.4,667.1L933.7,665.9L934.0,664.7L934.2,663.4L934.5,662.2L934.7,661.0L935.0,659.8L935.3,658.5L935.5,657.3L935.8,656.1L936.0,654.9L936.3,653.7L936.6,652.6L936.8,651.4L937.1,650.3L937.3,649.1L937.6,648.0L937.8,646.8L938.1,645.7L938.4,644.6L938.6,643.4L938.9,642.2L939.1,641.0L939.4,639.8L939.6,638.6L939.9,637.5L940.1,636.3L940.4,635.1L940.7,633.9L940.9,632.7L941.2,631.6L941.4,630.4L941.7,629.2L941.9,628.1L942.2,626.9L942.5,625.7L942.7,624.5L943.0,623.4L943.2,622.2L943.5,621.0L943.8,619.8L944.0,618.6L944.3,617.4L944.5,616.2L944.8,615.1L945.0,613.9L945.3,612.7L945.6,611.5L945.8,610.4L946.1,609.4L946.3,608.4L946.6,607.3L946.9,606.3L947.1,605.3L947.4,604.2L947.6,603.2L947.9,602.2L948.1,601.0L948.4,599.7L948.7,598.4L948.9,597.1L949.2,595.7L949.4,594.4L949.7,593.1L949.9,591.8L950.2,590.5L950.5,589.3L950.7,588.1L951.0,587.0L951.2,585.8L951.5,584.7L951.7,583.6L952.0,582.4L952.3,581.3L952.5,580.1L952.8,579.0L953.0,577.9L953.3,576.8L953.5,575.7L953.8,574.5L954.0,573.4L954.3,572.3L954.6,571.2L954.8,570.1L955.1,569.0L955.3,567.8L955.6,566.5L955.8,565.3L956.1,564.0L956.3,562.7L956.6,561.4L956.8,560.2L957.1,558.9L957.3,557.6L957.6,556.3L957.8,555.3L958.1,554.2L958.3,553.1L958.6,552.1L958.8,551.0L959.1,550.0L959.3,548.9L959.6,547.8L959.8,546.8L960.1,545.7L960.3,544.4L960.6,543.1L960.8,541.8L961.0,540.5L961.3,539.2L961.5,537.9L961.8,536.6L962.0,535.3L962.3,534.0L962.5,532.8L962.7,531.7L963.0,530.5L963.2,529.4L963.5,528.3L963.7,527.2L963.9,526.0L964.2,524.9L964.4,523.8L964.7,522.7L964.9,521.5L965.1,520.3L965.4,519.1L965.6,517.9L965.8,516.7L966.1,515.5L966.3,514.3L966.5,513.2L966.8,512.0L967.0,510.8L967.2,509.6L967.5,508.4L967.7,507.2L967.9,506.0L968.1,504.8L968.4,503.6L968.6,502.3L968.8,501.1L969.1,499.9L969.3,498.7L969.5,497.5L969.7,496.3L969.9,495.2L970.2,494.0L970.4,492.9L970.6,491.7L970.8,490.6L971.1,489.4L971.3,488.3L971.5,487.1L971.7,486.0L971.9,484.8L972.1,483.6L972.4,482.4L972.6,481.2L972.8,480.0L973.0,478.8L973.2,477.6L973.4,476.4L973.7,475.2L973.9,474.0L974.1,472.8L974.3,471.6L974.5,470.4L974.7,469.2L974.9,468.1L975.1,466.9L975.3,465.8L975.6,464.6L975.8,463.4L976.0,462.3L976.2,461.1L976.4,459.9L976.6,458.8L976.8,457.6L977.0,456.4L977.2,455.2L977.4,454.0L977.6,452.9L977.8,451.7L978.0,450.5L978.3,449.3L978.5,448.1L978.7,446.9L978.9,445.8L979.1,444.6L979.3,443.4L979.5,442.2L979.7,441.0L979.9,439.9L980.1,438.7L980.3,437.5L980.5,436.3L980.7,435.1L980.9,434.0L981.1,432.8L981.3,431.6L981.5,430.4L981.7,429.2L981.9,428.0L982.1,426.8L982.3,425.6L982.5,424.3L982.7,423.1L982.9,421.9L983.1,420.7L983.3,419.5L983.5,418.2L983.7,417.0L983.9,415.8L984.1,414.6L984.3,413.5L984.5,412.3L984.7,411.2L984.9,410.0L985.1,408.9L985.3,407.8L985.5,406.6L985.7,405.5L985.9,404.3L986.1,403.2L986.3,402.0L986.5,400.9L986.7,399.7L986.9,398.5L987.1,397.3L987.3,396.1L987.5,394.9L987.7,393.8L987.9,392.6L988.0,391.4L988.2,390.2L988.4,389.0L988.6,387.8L988.8,386.6L989.0,385.5L989.2,384.4L989.4,383.2L989.6,382.1L989.8,380.9L990.0,379.8L990.2,378.6L990.4,377.5L990.6,376.3L990.8,375.2L991.0,374.0L991.2,372.9L991.4,371.7L991.6,370.4L991.8,369.2L992.0,368.0L992.2,366.8L992.4,365.6L992.6,364.4L992.8,363.2L993.0,361.9L993.2,360.7L993.4,359.5L993.6,358.3L993.8,357.1L994.0,355.9L994.2,354.7L994.4,353.6L994.6,352.4L994.8,351.2L995.0,350.0L995.2,348.8L995.4,347.6L995.6,346.4L995.8,345.3L996.0,344.1L996.2,342.9L996.4,341.7L996.6,340.6L996.8,339.4L997.0,338.3L997.3,337.1L997.5,335.9L997.7,334.8L997.9,333.6L998.1,332.5L998.3,331.3L998.5,330.1L998.7,328.9L998.9,327.6L999.1,326.4L999.3,325.2L999.5,323.9L999.7,322.7L999.9,321.4L1000.2,320.2L1000.4,319.0L1000.6,317.7L1000.8,316.5L1001.0,315.3L1001.2,314.2L1001.4,313.0L1001.6,311.9L1001.9,310.7L1002.1,309.5L1002.3,308.4L1002.5,307.2L1002.7,306.0L1002.9,304.9L1003.1,303.7L1003.4,302.6L1003.6,301.5L1003.8,300.3L1004.0,299.2L1004.2,298.0L1004.5,296.9L1004.7,295.8L1004.9,294.6L1005.1,293.5L1005.4,292.4L1005.6,291.3L1005.8,290.0L1006.0,288.8L1006.2,287.6L1006.5,286.4L1006.7,285.2L1006.9,283.9L1007.2,282.7L1007.4,281.5L1007.6,280.3L1007.9,279.1L1008.1,277.9L1008.3,276.7L1008.5,275.5L1008.8,274.3L1009.0,273.2L1009.3,272.0L1009.5,270.8L1009.7,269.6L1010.0,268.5L1010.2,267.3L1010.4,266.1L1010.7,265.0L1010.9,263.8L1011.2,262.6L1011.4,261.5L1011.7,260.3L1011.9,259.2L1012.2,258.0L1012.4,256.9L1012.7,255.7L1012.9,254.6L1013.2,253.4L1013.4,252.2L1013.7,251.0L1013.9,249.8L1014.2,248.6L1014.4,247.4L1014.7,246.3L1014.9,245.1L1015.2,243.9L1015.5,242.7L1015.7,241.5L1016.0,240.3L1016.3,239.1L1016.5,237.9L1016.8,236.7L1017.1,235.5L1017.3,234.3L1017.6,233.1L1017.9,231.9L1018.1,230.8L1018.4,229.6L1018.7,228.5L1019.0,227.3L1019.2,226.2L1019.5,225.1L1019.8,223.9L1020.1,222.8L1020.4,221.6L1020.7,220.5L1020.9,219.4L1021.2,218.3L1021.5,217.2L1021.8,216.1L1022.1,214.9L1022.4,213.8L1022.7,212.6L1023.0,211.4L1023.3,210.2L1023.6,209.1L1023.9,207.9L1024.2,206.7L1024.5,205.5L1024.8,204.3L1025.1,203.1L1025.4,201.9L1025.7,200.7L1026.0,199.5L1026.3,198.3L1026.7,197.1L1027.0,195.9L1027.3,194.7L1027.6,193.6L1027.9,192.4L1028.2,191.3L1028.6,190.1L1028.9,189.0L1029.2,187.9L1029.6,186.7L1029.9,185.6L1030.2,184.5L1030.6,183.4L1030.9,182.3L1031.2,181.2L1031.6,180.2L1031.9,179.1L1032.2,177.9L1032.6,176.8L1032.9,175.6L1033.3,174.5L1033.7,173.3L1034.0,172.2L1034.4,171.0L1034.8,169.9L1035.2,168.8L1035.6,167.6L1036.0,166.5L1036.5,165.4L1036.9,164.3L1037.4,163.2L1037.9,162.2L1038.4,161.2L1038.9,160.2L1039.4,159.1L1039.9,157.7L1040.5,156.4L1041.1,155.1L1041.7,153.8L1042.4,152.8L1043.0,151.8L1043.7,150.9L1044.5,150.1L1045.3,149.6L1046.2,149.1L1047.1,148.1L1048.1,147.0L1049.2,146.2L1050.3,146.0L1051.4,145.9L1052.6,146.0L1053.7,146.2L1054.8,146.7L1055.9,147.4L1056.9,148.2L1057.8,149.2L1058.6,150.2L1059.4,151.1L1060.1,152.0L1060.7,153.0L1061.2,154.0L1061.8,155.1L1062.3,156.1L1062.9,157.1L1063.4,158.2L1063.9,159.4L1064.4,160.6L1064.8,161.7L1065.3,162.9L1065.7,164.1L1066.2,165.2L1066.6,166.4L1067.0,167.5L1067.4,168.7L1067.8,169.8L1068.2,170.9L1068.6,172.0L1068.9,173.1L1069.3,174.2L1069.6,175.3L1070.0,176.3L1070.3,177.4L1070.6,178.6L1071.0,179.8L1071.3,181.0L1071.6,182.2L1071.9,183.4L1072.2,184.6L1072.5,185.7L1072.8,186.9L1073.0,188.1L1073.3,189.2L1073.6,190.3L1073.8,191.5L1074.1,192.6L1074.4,193.7L1074.6,194.9L1074.9,196.0L1075.1,197.1L1075.4,198.3L1075.6,199.6L1075.9,200.8L1076.1,202.0L1076.4,203.3L1076.6,204.5L1076.9,205.7L1077.1,206.9L1077.4,208.2L1077.6,209.4L1077.9,210.5L1078.1,211.7L1078.3,212.9L1078.6,214.0L1078.8,215.2L1079.1,216.4L1079.3,217.5L1079.6,218.7L1079.8,219.9L1080.1,221.0L1080.3,222.2L1080.6,223.4L1080.8,224.6L1081.1,225.8L1081.3,227.0L1081.6,228.2L1081.8,229.4L1082.1,230.6L1082.3,231.8L1082.6,232.9L1082.9,234.0L1083.1,235.1L1083.4,236.1L1083.6,237.2L1083.9,238.3L1084.1,239.3L1084.4,240.4L1084.6,241.5L1084.9,242.6L1085.1,243.8L1085.4,245.0L1085.6,246.2L1085.9,247.4L1086.2,248.7L1086.4,249.9L1086.7,251.1L1086.9,252.3L1087.2,253.5L1087.4,254.8L1087.7,256.0L1087.9,257.2L1088.2,258.5L1088.5,259.7L1088.7,261.0L1089.0,262.2L1089.2,263.4L1089.5,264.7L1089.8,265.9L1090.0,267.0L1090.3,268.2L1090.5,269.3L1090.8,270.4L1091.0,271.6L1091.3,272.7L1091.6,273.9L1091.8,275.0L1092.1,276.2L1092.3,277.3L1092.6,278.4L1092.9,279.5L1093.1,280.7L1093.4,281.8L1093.7,282.9L1093.9,284.0L1094.2,285.1L1094.4,286.3L1094.7,287.5L1095.0,288.6L1095.2,289.8L1095.5,291.0L1095.8,292.2L1096.0,293.4L1096.3,294.6L1096.5,295.7L1096.8,296.9L1097.1,298.1L1097.3,299.4L1097.6,300.6L1097.9,301.8L1098.1,303.0L1098.4,304.2L1098.7,305.4L1098.9,306.6L1099.2,307.8L1099.5,308.9L1099.7,310.1L1100.0,311.2L1100.3,312.4L1100.5,313.5L1100.8,314.6L1101.1,315.8L1101.3,316.9L1101.6,318.1L1101.9,319.3L1102.2,320.5L1102.4,321.7L1102.7,322.9L1103.0,324.1L1103.2,325.3L1103.5,326.5L1103.8,327.8L1104.1,328.9L1104.3,330.1L1104.6,331.2L1104.9,332.3L1105.1,333.5L1105.4,334.6L1105.7,335.7L1106.0,336.8L1106.2,338.0L1106.5,339.1L1106.8,340.3L1107.1,341.5L1107.3,342.7L1107.6,344.0L1107.9,345.2L1108.2,346.4L1108.4,347.6L1108.7,348.8L1109.0,350.0L1109.3,351.1L1109.6,352.3L1109.8,353.5L1110.1,354.6L1110.4,355.8L1110.7,356.9L1111.0,358.1L1111.2,359.3L1111.5,360.4L1111.8,361.5L1112.1,362.7L1112.4,363.8L1112.6,364.9L1112.9,366.1L1113.2,367.2L1113.5,368.3L1113.8,369.5L1114.1,370.7L1114.3,371.9L1114.6,373.0L1114.9,374.2L1115.2,375.4L1115.5,376.6L1115.8,377.7L1116.1,378.9L1116.3,380.1L1116.6,381.2L1116.9,382.4L1117.2,383.6L1117.5,384.8L1117.8,385.9L1118.1,387.1L1118.4,388.3L1118.7,389.4L1119.0,390.6L1119.2,391.7L1119.5,392.9L1119.8,394.0L1120.1,395.2L1120.4,396.3L1120.7,397.5L1121.0,398.6L1121.3,399.7L1121.6,400.8L1121.9,401.9L1122.2,403.0L1122.5,404.2L1122.8,405.3L1123.1,406.4L1123.4,407.5L1123.7,408.7L1124.0,409.9L1124.3,411.1L1124.6,412.3L1124.9,413.4L1125.2,414.6L1125.5,415.8L1125.8,417.0L1126.1,418.3L1126.4,419.5L1126.7,420.7L1127.0,422.0L1127.3,423.2L1127.6,424.4L1127.9,425.7L1128.2,426.7L1128.5,427.7L1128.8,428.7L1129.1,429.6L1129.4,430.6L1129.7,431.6L1130.1,432.6L1130.4,433.5L1130.7,434.8L1131.0,436.1L1131.3,437.4L1131.6,438.7L1131.9,439.9L1132.2,441.2L1132.5,442.5L1132.9,443.8L1133.2,445.0L1133.5,446.1L1133.8,447.3L1134.1,448.5L1134.4,449.7L1134.7,450.8L1135.1,452.0L1135.4,453.2L1135.7,454.4L1136.0,455.5L1136.3,456.7L1136.7,457.9L1137.0,459.1L1137.3,460.2L1137.6,461.4L1138.0,462.6L1138.3,463.9L1138.6,465.1L1138.9,466.3L1139.3,467.6L1139.6,468.8L1139.9,470.0L1140.3,471.2L1140.6,472.3L1140.9,473.4L1141.3,474.5L1141.6,475.6L1141.9,476.7L1142.3,477.8L1142.6,478.9L1142.9,480.0L1143.3,481.1L1143.6,482.1L1144.0,483.2L1144.3,484.2L1144.6,485.3L1145.0,486.4L1145.3,487.6L1145.7,488.9L1146.0,490.1L1146.4,491.3L1146.7,492.5L1147.1,493.7L1147.4,494.8L1147.8,496.0L1148.1,497.1L1148.5,498.3L1148.9,499.4L1149.2,500.5L1149.6,501.7L1149.9,502.7L1150.3,503.8L1150.7,504.8L1151.0,505.9L1151.4,506.9L1151.8,507.9L1152.1,509.0L1152.5,510.2L1152.9,511.4L1153.3,512.6L1153.7,513.8L1154.0,515.0L1154.4,516.2L1154.8,517.3L1155.2,518.4L1155.6,519.6L1156.0,520.7L1156.4,521.8L1156.8,523.0L1157.3,524.1L1157.7,525.2L1158.1,526.3L1158.5,527.5L1159.0,528.6L1159.4,529.7L1159.9,530.7L1160.3,531.7L1160.8,532.7L1161.3,533.7L1161.7,534.8L1162.2,535.9L1162.7,537.1L1163.2,538.3L1163.7,539.5L1164.3,540.6L1164.8,541.6L1165.3,542.6L1165.9,543.7L1166.4,544.7L1167.0,545.8L1167.5,546.9L1168.1,548.0L1168.7,549.0L1169.3,550.1L1169.9,551.1L1170.6,552.1L1171.2,553.1L1171.9,554.0L1172.5,554.9L1173.2,555.8L1173.9,556.8L1174.7,558.0L1175.4,559.2L1176.2,560.2L1177.0,561.0L1177.9,561.8L1178.8,562.6L1179.7,563.3L1180.6,563.9L1181.6,564.5L1182.6,565.0L1183.6,565.6L1184.7,566.5L1185.7,567.3L1186.8,567.7L1187.9,568.1L1189.1,568.4L1190.2,568.7L1191.3,569.3L1192.5,569.9L1193.6,569.9L1194.8,569.8L1196.0,570.4L1197.1,571.5L1198.3,571.9L1199.5,571.9L1200.6,572.1L1201.8,572.5L1202.9,572.8L1204.1,573.1L1205.3,573.5L1206.4,574.1L1207.5,574.6L1208.7,574.8L1209.8,575.1L1210.9,575.6L1212.0,576.2L1213.0,576.7L1214.1,577.2L1215.1,577.8L1216.2,578.3L1217.2,578.9L1218.2,579.5L1219.1,580.1L1220.1,581.0L1221.1,581.9L1222.0,582.7L1222.9,583.2L1223.8,583.8L1224.7,584.5L1225.6,585.3L1226.5,586.2L1227.4,587.1L1228.2,588.0L1229.1,588.9L1229.9,589.8L1230.7,590.7L1231.6,591.6L1232.4,592.5L1233.2,593.3L1234.0,594.1L1234.8,594.8L1235.6,595.6L1236.4,596.5L1237.2,597.7L1238.0,598.9L1238.8,599.9L1239.6,600.8L1240.4,601.7L1241.2,602.6L1242.0,603.6L1242.8,604.5L1243.6,605.3L1244.4,606.1L1245.2,606.8L1246.1,607.7L1246.9,608.8L1247.7,609.8L1248.6,610.7L1249.4,611.6L1250.2,612.5L1251.1,613.2L1251.9,613.8L1252.8,614.4L1253.6,615.1L1254.5,615.9L1255.4,616.7L1256.2,617.8L1257.1,619.0L1258.0,619.9L1258.9,620.6L1259.8,621.2L1260.7,622.1L1261.5,623.1L1262.4,624.0L1263.3,624.6L1264.2,625.1L1265.2,625.7L1266.1,626.2L1267.0,626.8L1267.9,627.6L1268.8,628.4L1269.7,629.3L1270.7,630.1L1271.6,630.8L1272.5,631.6L1273.4,632.4L1274.4,633.2L1275.3,633.9L1276.3,634.7L1277.2,635.4L1278.2,636.0L1279.1,636.6L1280.1,637.3L1281.0,638.0L1282.0,638.8L1282.9,639.6L1283.9,640.4L1284.8,641.1L1285.8,641.7L1286.8,642.4L1287.7,643.2L1288.7,644.1L1289.7,644.6L1290.6,645.2L1291.6,646.0L1292.6,647.1L1293.6,648.3L1294.5,648.9L1295.5,649.5L1296.5,650.0L1297.5,650.6L1298.5,651.1L1299.4,651.6L1300.4,652.2L1301.4,652.9L1302.4,653.7L1303.4,654.5L1304.4,655.3L1305.3,656.0L1306.3,656.6L1307.3,657.1L1308.3,657.7L1309.3,658.7L1310.3,659.7L1311.2,660.3L1312.2,660.8L1313.2,661.4L1314.2,662.0L1315.2,662.6L1316.1,663.4L1317.1,664.1L1318.1,664.8L1319.1,665.6L1320.0,666.5L1321.0,667.4L1322.0,668.4L1323.0,669.0L1323.9,669.5L1324.9,669.9L1325.9,670.9L1326.8,671.8L1327.8,672.7L1328.7,673.4L1329.7,674.1L1330.7,674.6L1331.6,675.1L1332.6,675.9L1333.5,676.8L1334.5,677.7L1335.4,678.5L1336.3,679.2L1337.3,679.9L1338.2,680.5L1339.1,681.2L1340.1,682.1L1341.0,682.9L1341.9,683.7L1342.8,684.3L1343.8,685.0L1344.7,685.7L1345.6,686.4L1346.5,687.2L1347.4,687.8L1348.3,688.5L1349.2,689.3L1350.1,690.3L1351.0,691.2L1351.8,692.1L1352.7,692.9L1353.6,693.7L1354.5,694.6L1355.3,695.5L1356.2,696.3L1357.1,697.3L1357.9,698.3L1358.7,699.1L1359.6,699.6L1360.4,700.1L1361.3,700.9L1362.1,702.0L1362.9,703.1L1363.7,703.9L1364.6,704.7L1365.4,705.4L1366.2,706.2L1367.0,707.0L1367.8,707.8L1368.6,708.9L1369.4,710.2L1370.2,711.5L1370.9,712.3L1371.7,712.8L1372.5,713.4L1373.3,714.3L1374.0,715.5L1374.8,716.6L1375.6,717.6L1376.3,718.4L1377.1,719.1L1377.8,720.0L1378.5,721.1L1379.3,722.2L1380.0,723.2L1380.7,724.1L1381.5,724.9L1382.2,725.8L1382.9,726.9L1383.6,728.0L1384.3,729.1L1385.0,730.1L1385.7,730.8L1386.4,731.6L1387.1,732.3L1387.8,733.3L1388.5,734.3L1389.2,735.3L1389.9,736.4L1390.6,737.4L1391.2,738.4L1391.9,739.5L1392.6,740.6L1393.2,741.8L1393.9,743.0L1394.5,744.1L1395.2,744.9L1395.8,745.7L1396.5,746.5L1397.1,747.5L1397.8,748.6L1398.4,749.6L1399.0,750.7L1399.7,751.7L1400.3,752.6L1400.9,753.6L1401.5,754.5L1402.1,755.7L1402.7,756.9L1403.3,758.1L1403.9,759.3L1404.5,760.3L1405.1,761.3L1405.7,762.3L1406.3,763.3L1406.9,764.5L1407.5,765.7L1408.1,766.9L1408.6,768.1L1409.2,769.1L1409.8,770.1L1410.3,771.1L1410.9,772.1L1411.5,773.1L1412.0,774.1L1412.6,775.2L1413.1,776.2L1413.7,777.3L1414.2,778.3L1414.7,779.2L1415.3,780.2L1415.8,781.2L1416.3,782.3L1416.9,783.5L1417.4,784.7L1417.9,785.9L1418.4,787.0L1419.0,788.1L1419.5,789.2L1420.0,790.4L1420.5,791.5L1421.0,792.5L1421.5,793.4L1422.0,794.3L1422.5,795.3L1423.0,796.2L1423.5,797.3L1424.0,798.5L1424.4,799.7L1424.9,801.0L1425.4,802.2L1425.9,803.3L1426.4,804.3L1426.8,805.3L1427.3,806.2L1427.8,807.2L1428.2,808.3L1428.7,809.6L1429.1,810.8L1429.6,812.0L1430.1,813.2L1430.5,814.4L1431.0,815.4L1431.4,816.5L1431.8,817.5L1432.3,818.5L1432.7,819.6L1433.2,820.6L1433.6,821.7L1434.0,822.8L1434.5,823.8L1434.9,824.9L1435.3,826.0L1435.7,827.2L1436.2,828.3L1436.6,829.5L1437.0,830.7L1437.4,831.9L1437.8,832.9L1438.2,833.9L1438.7,834.9L1439.1,835.9L1439.5,836.9L1439.9,837.9L1440.3,839.1L1440.7,840.5L1441.1,841.8L1441.5,843.1L1441.9,844.4L1442.3,845.8L1442.7,847.0L1443.1,848.2L1443.5,849.4L1443.9,850.6L1444.3,851.8L1444.6,852.9L1445.0,854.1L1445.4,855.2L1445.8,856.3L1446.2,857.4L1446.6,858.6L1446.9,859.7L1447.3,860.8L1447.7,862.0L1448.1,863.2L1448.5,864.4L1448.8,865.6L1449.2,866.8L1449.6,868.0L1450.0,869.0L1450.3,870.1L1450.7,871.1L1451.1,872.2L1451.4,873.2L1451.8,874.3L1452.2,875.4L1452.6,876.5L1452.9,877.6L1453.3,878.7L1453.7,879.8L1454.0,881.0L1454.4,882.1L1454.8,883.2L1455.1,884.2L1455.5,885.3L1455.8,886.4L1456.2,887.5L1456.6,888.6L1456.9,889.7L1457.3,891.0L1457.7,892.2L1458.0,893.5L1458.4,894.7L1458.7,895.9L1459.1,897.2L1459.5,898.3L1459.8,899.4L1460.2,900.5L1460.6,901.6L1460.9,902.6L1461.3,903.7L1461.6,904.8L1462.0,905.9L1462.4,907.1L1462.7,908.2L1463.1,909.3L1463.5,910.4L1463.8,911.5L1464.2,912.6L1464.5,913.7L1464.9,914.8L1465.3,915.9L1465.6,917.0L1466.0,918.1L1466.3,919.2L1466.7,920.3L1467.1,921.5L1467.4,922.7L1467.8,923.8L1468.1,925.0L1468.5,926.2L1468.9,927.4L1469.2,928.6L1469.6,929.8L1469.9,931.1L1470.3,932.3L1470.7,933.5L1471.0,934.8L1471.4,935.9L1471.7,937.0L1472.1,938.1L1472.4,939.2L1472.8,940.2L1473.1,941.3L1473.5,942.4L1473.9,943.5L1474.2,944.7L1474.6,945.9L1474.9,947.0L1475.3,948.2L1475.6,949.3L1476.0,950.5L1476.3,951.7L1476.7,952.9L1477.0,954.0L1477.4,955.2L1477.7,956.4L1478.1,957.6L1478.4,958.8L1478.7,960.0L1479.1,961.2L1479.4,962.4L1479.8,963.6L1480.1,964.8L1480.5,965.9L1480.8,967.1L1481.1,968.3L1481.5,969.4L1481.8,970.5L1482.2,971.6L1482.5,972.8L1482.8,973.9L1483.2,975.0L1483.5,976.1L1483.8,977.1L1484.2,978.1L1484.5,979.2L1484.8,980.2L1485.2,981.2L1485.5,982.3L1485.8,983.5L1486.2,984.9L1486.5,986.2L1486.8,987.5L1487.1,988.9L1487.5,990.2L1487.8,991.5L1488.1,992.8L1488.4,993.8L1488.7,994.9L1489.1,996.0L1489.4,997.0L1489.7,998.1L1490.0,999.2L1490.3,1000.3L1490.6,1001.4L1491.0,1002.6L1491.3,1003.8L1491.6,1005.0L1491.9,1006.2L1492.2,1007.4L1492.5,1008.6L1492.8,1009.8L1493.1,1011.0L1493.4,1012.1L1493.7,1013.3L1494.0,1014.4L1494.3,1015.6L1494.6,1016.7L1494.9,1017.9L1495.2,1019.0L1495.6,1020.1L1495.9,1021.2L1496.2,1022.3L1496.5,1023.3L1496.8,1024.4L1497.1,1025.5L1497.4,1026.6L1497.7,1027.7L1498.0,1029.0L1498.3,1030.2L1498.6,1031.4L1498.9,1032.7L1499.2,1033.9L1499.5,1035.2L1499.9,1036.4L1500.2,1037.5L1500.5,1038.5L1500.8,1039.5L1501.1,1040.5L1501.4,1041.5L1501.8,1042.6L1502.1,1043.6L1502.4,1044.6L1502.7,1045.8L1503.1,1047.1L1503.4,1048.3L1503.7,1049.5L1504.1,1050.8L1504.4,1052.0L1504.8,1053.2L1505.1,1054.4L1505.4,1055.6L1505.8,1056.8L1506.1,1058.0L1506.5,1059.2L1506.9,1060.4L1507.2,1061.6L1507.6,1062.6L1507.9,1063.7L1508.3,1064.7L1508.7,1065.8L1509.1,1066.8L1509.5,1067.9L1509.8,1069.1L1510.2,1070.3L1510.6,1071.6L1511.0,1072.9L1511.4,1074.2L1511.8,1075.5L1512.2,1076.6L1512.6,1077.5L1513.1,1078.5L1513.5,1079.4L1513.9,1080.3L1514.3,1081.3L1514.8,1082.4L1515.2,1083.5L1515.7,1084.6L1516.1,1085.7L1516.6,1086.8L1517.0,1087.9L1517.5,1088.9L1518.0,1089.9L1518.4,1090.9L1518.9,1092.0L1519.4,1093.1L1519.9,1094.4L1520.4,1095.6L1520.9,1096.9L1521.4,1098.2L1521.9,1099.3L1522.4,1100.3L1523.0,1101.2L1523.5,1102.2L1524.0,1103.2L1524.6,1104.4L1525.1,1105.6L1525.7,1106.8L1526.2,1108.0L1526.8,1109.0L1527.4,1109.8L1527.9,1110.7L1528.5,1111.5L1529.1,1112.6L1529.7,1113.7L1530.3,1114.8L1530.9,1116.0L1531.5,1117.1L1532.1,1118.2L1532.8,1119.4L1533.4,1120.5L1534.0,1121.7L1534.7,1122.8L1535.3,1124.0L1536.0,1125.2L1536.6,1126.1L1537.3,1127.1L1538.0,1128.0L1538.7,1129.0L1539.3,1129.8L1540.0,1130.6L1540.7,1131.5L1541.4,1132.5L1542.1,1133.5L1542.8,1134.5L1543.6,1135.5L1544.3,1136.5L1545.0,1137.5L1545.8,1138.5L1546.5,1139.5L1547.3,1140.4L1548.0,1141.3L1548.8,1142.3L1549.5,1143.3L1550.3,1144.3L1551.1,1145.0L1551.9,1145.7L1552.7,1146.4L1553.5,1147.4L1554.3,1148.5L1555.1,1149.5L1555.9,1150.3L1556.8,1151.1L1557.7,1151.8L1558.5,1152.5L1559.4,1153.2L1560.4,1154.0L1561.3,1154.9L1562.3,1155.7L1563.2,1156.4L1564.3,1157.1L1565.3,1157.6L1566.4,1158.1L1567.5,1158.3L1568.6,1158.3L1569.8,1158.3L1571.0,1158.8L1572.2,1159.3L1573.4,1159.7L1574.6,1160.0L1575.9,1159.9L1577.1,1159.7L1578.3,1159.5L1579.5,1159.3L1580.7,1159.1L1581.8,1158.7L1583.0,1158.5L1584.2,1158.2L1585.3,1158.2L1586.5,1158.1L1587.6,1157.5L1588.7,1156.9L1589.8,1156.6L1590.9,1156.3L1592.0,1155.7L1593.1,1154.9L1594.2,1154.2L1595.2,1153.5L1596.2,1152.8L1597.3,1152.1L1598.3,1151.5L1599.3,1151.1L1600.3,1150.8L1601.3,1149.9L1602.3,1148.6L1603.2,1147.3L1604.2,1146.9L1605.2,1146.5L1606.1,1146.1L1607.1,1145.5L1608.0,1144.9L1608.9,1144.1L1609.9,1143.3L1610.8,1142.5L1611.8,1141.8L1612.7,1141.0L1613.7,1140.4L1614.7,1139.8L1615.6,1139.2L1616.6,1138.7L1617.6,1138.2L1618.6,1137.5L1619.7,1136.8L1620.7,1136.2L1621.8,1135.7L1622.8,1135.2L1623.9,1134.6L1625.0,1134.0L1626.2,1133.4L1627.3,1132.7L1628.4,1132.0L1629.6,1131.4L1630.7,1131.0L1631.9,1130.8L1633.0,1130.2L1634.2,1129.6L1635.4,1129.5L1636.5,1129.4L1637.7,1129.3L1638.9,1129.2L1640.0,1128.7L1641.2,1128.1L1642.4,1127.8L1643.6,1127.8L1644.7,1127.6L1645.9,1127.3L1647.1,1127.2L1648.3,1127.2L1649.5,1127.4L1650.6,1127.6L1651.8,1127.7L1653.0,1127.6L1654.2,1127.6L1655.4,1127.8L1656.5,1127.7L1657.7,1127.2L1658.9,1127.1L1660.1,1127.8L1661.2,1128.4L1662.4,1128.7L1663.6,1129.0L1664.8,1129.2L1665.9,1129.4L1667.1,1129.2L1668.2,1129.1L1669.4,1129.3L1670.6,1129.5L1671.7,1130.1L1672.9,1130.7L1674.0,1131.0L1675.2,1131.3L1676.3,1131.6L1677.4,1131.9L1678.6,1132.4L1679.7,1133.0L1680.8,1133.6L1681.9,1134.2L1683.1,1134.6L1684.2,1135.0L1685.3,1135.4L1686.4,1135.9L1687.5,1136.4L1688.6,1136.9L1689.6,1137.5L1690.7,1138.1L1691.8,1138.7L1692.8,1139.3L1693.9,1140.0L1695.0,1140.5L1696.0,1140.7L1697.0,1141.0L1698.1,1141.7L1699.1,1142.4L1700.1,1143.2L1701.1,1144.0L1702.1,1144.7L1703.1,1145.3L1704.1,1146.0L1705.1,1146.7L1706.0,1147.3L1707.0,1148.2L1707.9,1149.3L1708.9,1150.3L1709.8,1151.1L1710.7,1151.8L1711.6,1152.6L1712.5,1153.5L1713.4,1154.4L1714.3,1155.0L1715.2,1155.5L1716.0,1156.1L1716.9,1157.1L1717.7,1158.2L1718.5,1159.2L1719.4,1159.8L1720.2,1160.4L1720.9,1161.1L1721.7,1162.0L1722.5,1162.9L1723.3,1163.8L1724.0,1164.7" stroke="#1a6fdf"/>
</g>
<text transform="translate(171.40,1407.20) scale(0.9939,1)" font-size="69.4">100</text>
<text transform="translate(385.11,1407.20) scale(0.9939,1)" font-size="69.4">200</text>
<text transform="translate(598.82,1407.20) scale(0.9939,1)" font-size="69.4">300</text>
<text transform="translate(812.53,1407.20) scale(0.9939,1)" font-size="69.4">400</text>
<text transform="translate(1026.24,1407.20) scale(0.9939,1)" font-size="69.4">500</text>
<text transform="translate(1239.95,1407.20) scale(0.9939,1)" font-size="69.4">600</text>
<text transform="translate(1453.66,1407.20) scale(0.9939,1)" font-size="69.4">700</text>
<text transform="translate(1667.37,1407.20) scale(0.9939,1)" font-size="69.4">800</text>
<text transform="translate(661.76,1495.90) scale(0.9658,1)" font-size="74.4">Temperature (°C)</text>
<text transform="translate(69.70,893.05) rotate(-90) scale(0.9765,1)" font-size="74.4">TCD signal/a.u.</text>
<g stroke-linecap="round" fill="none" shape-rendering="crispEdges">
<path d="M159.0,84 H283.0" stroke="#515151" stroke-width="8"/>
<path d="M158.5,152.5 H283.5" stroke="#f14040" stroke-width="7"/>
<path d="M158.5,220.5 H283.5" stroke="#1a6fdf" stroke-width="7"/>
</g>
<text transform="translate(296.04,102.30) scale(0.9758,1)" font-size="56.2">Sample 1</text>
<text transform="translate(296.04,170.30) scale(0.9758,1)" font-size="56.2">Sample 2</text>
<text transform="translate(296.04,238.30) scale(0.9758,1)" font-size="56.2">Sample 3</text>
<g fill="#000" shape-rendering="crispEdges">
<rect x="1050" y="127" width="4" height="50"/>
<rect x="1207" y="546" width="4" height="50"/>
<rect x="1460" y="658" width="4" height="49"/>
<rect x="818" y="681" width="5" height="49"/>
<rect x="472" y="922" width="4" height="50"/>
<rect x="563" y="893" width="5" height="50"/>
<rect x="966" y="916" width="5" height="50"/>
<rect x="1196" y="898" width="4" height="50"/>
<rect x="1522" y="926" width="4" height="50"/>
<rect x="668" y="1061" width="4" height="50"/>
<rect x="463" y="1037" width="4" height="50"/>
<rect x="1659" y="1098" width="4" height="50"/>
</g>
<text transform="translate(1006.95,134.00) scale(0.9960,1)" font-size="42.5">487°C</text>
<text transform="translate(1166.86,543.90) scale(0.9960,1)" font-size="42.5">560°C</text>
<text transform="translate(1420.40,654.00) scale(0.9960,1)" font-size="42.5">679°C</text>
<text transform="translate(782.18,678.10) scale(0.9960,1)" font-size="42.5">379°C</text>
<text transform="translate(423.90,909.70) scale(0.9960,1)" font-size="42.5">216°C</text>
<text transform="translate(522.70,887.90) scale(0.9960,1)" font-size="42.5">260°C</text>
<text transform="translate(928.85,910.80) scale(0.9960,1)" font-size="42.5">449°C</text>
<text transform="translate(1156.46,892.00) scale(0.9960,1)" font-size="42.5">556°C</text>
<text transform="translate(1479.45,923.10) scale(0.9960,1)" font-size="42.5">707°C</text>
<text transform="translate(625.28,1056.70) scale(0.9960,1)" font-size="42.5">309°C</text>
<text transform="translate(422.25,1125.20) scale(0.9960,1)" font-size="42.5">213°C</text>
<text transform="translate(1608.05,1095.00) scale(0.9960,1)" font-size="42.5">771°C</text>
</svg>
</body></html>
